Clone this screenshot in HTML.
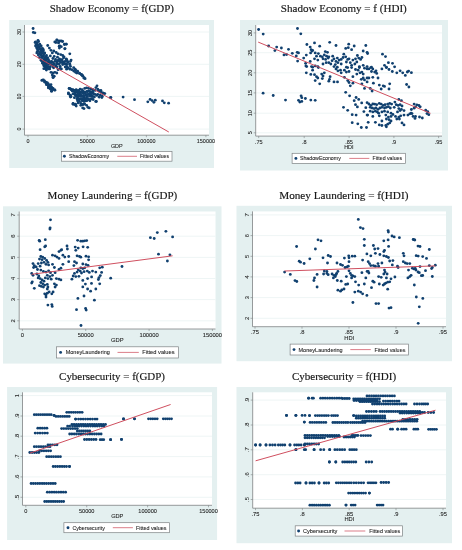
<!DOCTYPE html><html><head><meta charset="utf-8"><style>html,body{margin:0;padding:0;background:#fff;width:462px;height:550px;overflow:hidden}svg{display:block;will-change:transform}.t{font-family:"Liberation Serif",serif;fill:#161616;stroke:#161616;stroke-width:0.16px}.s{font-family:"Liberation Sans",sans-serif;fill:#222;stroke:#222;stroke-width:0.08px}</style></head><body>
<svg width="462" height="550" viewBox="0 0 462 550">
<rect width="462" height="550" fill="#fff"/>
<rect x="9.2" y="20" width="204.8" height="148.0" fill="#e4f0f0"/>
<rect x="24.5" y="25" width="184.5" height="110.2" fill="#fff"/>
<line x1="24.5" x2="209" y1="129.1" y2="129.1" stroke="#eaf2f3" stroke-width="0.8"/>
<line x1="24.5" x2="209" y1="96.4" y2="96.4" stroke="#eaf2f3" stroke-width="0.8"/>
<line x1="24.5" x2="209" y1="64.3" y2="64.3" stroke="#eaf2f3" stroke-width="0.8"/>
<line x1="24.5" x2="209" y1="32.0" y2="32.0" stroke="#eaf2f3" stroke-width="0.8"/>
<text class="t" x="49.7" y="12.4" font-size="11.2" textLength="124.3" lengthAdjust="spacingAndGlyphs">Shadow Economy = f(GDP)</text>
<g fill="#10406f">
<circle cx="33.1" cy="28.5" r="1.42"/><circle cx="33.3" cy="32.4" r="1.42"/><circle cx="34.9" cy="32.8" r="1.42"/><circle cx="38.0" cy="40.3" r="1.42"/><circle cx="56.8" cy="39.9" r="1.42"/><circle cx="59.0" cy="40.8" r="1.42"/><circle cx="62.0" cy="41.1" r="1.42"/><circle cx="35.1" cy="42.5" r="1.42"/><circle cx="36.9" cy="42.9" r="1.42"/><circle cx="55.9" cy="42.5" r="1.42"/><circle cx="58.5" cy="42.9" r="1.42"/><circle cx="64.6" cy="44.1" r="1.42"/><circle cx="66.3" cy="44.2" r="1.42"/><circle cx="36.0" cy="45.1" r="1.42"/><circle cx="38.0" cy="45.5" r="1.42"/><circle cx="47.7" cy="45.5" r="1.42"/><circle cx="59.8" cy="46.0" r="1.42"/><circle cx="36.7" cy="47.7" r="1.42"/><circle cx="39.0" cy="47.3" r="1.42"/><circle cx="40.8" cy="48.6" r="1.42"/><circle cx="49.4" cy="48.1" r="1.42"/><circle cx="65.0" cy="48.6" r="1.42"/><circle cx="59.4" cy="48.1" r="1.42"/><circle cx="38.0" cy="49.9" r="1.42"/><circle cx="41.2" cy="50.3" r="1.42"/><circle cx="43.2" cy="49.4" r="1.42"/><circle cx="51.0" cy="50.3" r="1.42"/><circle cx="53.8" cy="51.0" r="1.42"/><circle cx="37.3" cy="51.6" r="1.42"/><circle cx="39.9" cy="52.3" r="1.42"/><circle cx="42.5" cy="52.5" r="1.42"/><circle cx="44.5" cy="53.3" r="1.42"/><circle cx="52.3" cy="52.9" r="1.42"/><circle cx="56.2" cy="52.5" r="1.42"/><circle cx="58.1" cy="53.8" r="1.42"/><circle cx="60.7" cy="54.6" r="1.42"/><circle cx="69.8" cy="53.8" r="1.42"/><circle cx="39.3" cy="54.2" r="1.42"/><circle cx="41.2" cy="54.9" r="1.42"/><circle cx="43.2" cy="55.9" r="1.42"/><circle cx="45.8" cy="56.8" r="1.42"/><circle cx="50.3" cy="55.9" r="1.42"/><circle cx="54.2" cy="56.4" r="1.42"/><circle cx="57.5" cy="57.2" r="1.42"/><circle cx="62.7" cy="55.5" r="1.42"/><circle cx="64.0" cy="56.8" r="1.42"/><circle cx="41.9" cy="57.2" r="1.42"/><circle cx="44.5" cy="58.5" r="1.42"/><circle cx="47.1" cy="59.0" r="1.42"/><circle cx="52.9" cy="58.5" r="1.42"/><circle cx="55.5" cy="59.4" r="1.42"/><circle cx="59.4" cy="59.0" r="1.42"/><circle cx="62.0" cy="59.8" r="1.42"/><circle cx="66.6" cy="59.4" r="1.42"/><circle cx="71.1" cy="60.1" r="1.42"/><circle cx="45.1" cy="61.1" r="1.42"/><circle cx="48.4" cy="61.6" r="1.42"/><circle cx="51.6" cy="61.4" r="1.42"/><circle cx="56.8" cy="62.0" r="1.42"/><circle cx="60.7" cy="62.4" r="1.42"/><circle cx="64.0" cy="62.0" r="1.42"/><circle cx="67.9" cy="62.4" r="1.42"/><circle cx="46.4" cy="63.3" r="1.42"/><circle cx="49.0" cy="64.0" r="1.42"/><circle cx="54.2" cy="64.0" r="1.42"/><circle cx="58.1" cy="64.0" r="1.42"/><circle cx="62.7" cy="64.6" r="1.42"/><circle cx="69.8" cy="64.0" r="1.42"/><circle cx="45.8" cy="65.9" r="1.42"/><circle cx="48.4" cy="66.6" r="1.42"/><circle cx="56.2" cy="66.3" r="1.42"/><circle cx="60.1" cy="66.3" r="1.42"/><circle cx="65.3" cy="66.8" r="1.42"/><circle cx="70.5" cy="66.3" r="1.42"/><circle cx="73.7" cy="67.6" r="1.42"/><circle cx="46.4" cy="68.5" r="1.42"/><circle cx="49.7" cy="68.9" r="1.42"/><circle cx="61.4" cy="68.9" r="1.42"/><circle cx="66.6" cy="69.2" r="1.42"/><circle cx="69.8" cy="68.9" r="1.42"/><circle cx="75.0" cy="69.2" r="1.42"/><circle cx="41.2" cy="60.6" r="1.42"/><circle cx="43.2" cy="61.3" r="1.42"/><circle cx="45.1" cy="61.9" r="1.42"/><circle cx="42.5" cy="63.2" r="1.42"/><circle cx="44.5" cy="63.9" r="1.42"/><circle cx="46.4" cy="64.5" r="1.42"/><circle cx="43.8" cy="65.8" r="1.42"/><circle cx="45.8" cy="66.5" r="1.42"/><circle cx="47.1" cy="67.8" r="1.42"/><circle cx="45.1" cy="68.4" r="1.42"/><circle cx="46.4" cy="70.1" r="1.42"/><circle cx="49.0" cy="61.3" r="1.42"/><circle cx="51.0" cy="61.9" r="1.42"/><circle cx="52.9" cy="62.6" r="1.42"/><circle cx="54.9" cy="61.3" r="1.42"/><circle cx="57.5" cy="60.6" r="1.42"/><circle cx="60.1" cy="61.3" r="1.42"/><circle cx="62.7" cy="61.9" r="1.42"/><circle cx="65.3" cy="61.3" r="1.42"/><circle cx="67.9" cy="61.9" r="1.42"/><circle cx="70.5" cy="61.3" r="1.42"/><circle cx="64.0" cy="63.9" r="1.42"/><circle cx="66.6" cy="64.5" r="1.42"/><circle cx="69.8" cy="64.5" r="1.42"/><circle cx="52.3" cy="65.2" r="1.42"/><circle cx="55.5" cy="65.8" r="1.42"/><circle cx="53.6" cy="67.8" r="1.42"/><circle cx="56.8" cy="67.1" r="1.42"/><circle cx="60.1" cy="68.4" r="1.42"/><circle cx="58.1" cy="69.7" r="1.42"/><circle cx="65.3" cy="67.1" r="1.42"/><circle cx="67.9" cy="67.8" r="1.42"/><circle cx="69.8" cy="69.1" r="1.42"/><circle cx="71.8" cy="69.7" r="1.42"/><circle cx="73.7" cy="71.0" r="1.42"/><circle cx="75.6" cy="72.3" r="1.42"/><circle cx="76.9" cy="73.0" r="1.42"/><circle cx="79.5" cy="73.6" r="1.42"/><circle cx="81.5" cy="74.9" r="1.42"/><circle cx="82.8" cy="76.2" r="1.42"/><circle cx="84.1" cy="78.2" r="1.42"/><circle cx="51.0" cy="72.3" r="1.42"/><circle cx="52.9" cy="73.0" r="1.42"/><circle cx="54.9" cy="72.3" r="1.42"/><circle cx="56.8" cy="73.0" r="1.42"/><circle cx="52.3" cy="74.9" r="1.42"/><circle cx="54.2" cy="76.2" r="1.42"/><circle cx="52.9" cy="76.9" r="1.42"/><circle cx="42.5" cy="80.1" r="1.42"/><circle cx="44.5" cy="80.8" r="1.42"/><circle cx="45.8" cy="82.1" r="1.42"/><circle cx="47.1" cy="83.4" r="1.42"/><circle cx="48.4" cy="84.0" r="1.42"/><circle cx="46.4" cy="84.7" r="1.42"/><circle cx="49.0" cy="86.0" r="1.42"/><circle cx="50.3" cy="86.6" r="1.42"/><circle cx="51.6" cy="87.3" r="1.42"/><circle cx="48.4" cy="87.9" r="1.42"/><circle cx="51.0" cy="88.6" r="1.42"/><circle cx="52.9" cy="89.2" r="1.42"/><circle cx="54.9" cy="89.9" r="1.42"/><circle cx="51.6" cy="91.2" r="1.42"/><circle cx="69.8" cy="88.6" r="1.42"/><circle cx="71.8" cy="89.9" r="1.42"/><circle cx="73.7" cy="91.2" r="1.42"/><circle cx="75.6" cy="90.5" r="1.42"/><circle cx="76.9" cy="91.8" r="1.42"/><circle cx="78.9" cy="91.2" r="1.42"/><circle cx="80.8" cy="92.5" r="1.42"/><circle cx="82.8" cy="91.2" r="1.42"/><circle cx="84.1" cy="92.5" r="1.42"/><circle cx="68.5" cy="93.8" r="1.42"/><circle cx="70.5" cy="95.1" r="1.42"/><circle cx="73.1" cy="93.8" r="1.42"/><circle cx="75.0" cy="94.4" r="1.42"/><circle cx="76.9" cy="95.1" r="1.42"/><circle cx="78.9" cy="94.4" r="1.42"/><circle cx="80.8" cy="95.7" r="1.42"/><circle cx="82.8" cy="96.4" r="1.42"/><circle cx="84.1" cy="97.7" r="1.42"/><circle cx="70.5" cy="97.0" r="1.42"/><circle cx="74.4" cy="97.7" r="1.42"/><circle cx="77.6" cy="98.3" r="1.42"/><circle cx="79.5" cy="99.0" r="1.42"/><circle cx="82.1" cy="99.6" r="1.42"/><circle cx="84.1" cy="100.3" r="1.42"/><circle cx="73.1" cy="103.5" r="1.42"/><circle cx="75.6" cy="104.2" r="1.42"/><circle cx="78.2" cy="102.9" r="1.42"/><circle cx="80.8" cy="103.5" r="1.42"/><circle cx="83.4" cy="104.2" r="1.42"/><circle cx="69.1" cy="88.4" r="1.42"/><circle cx="71.0" cy="89.1" r="1.42"/><circle cx="73.0" cy="89.7" r="1.42"/><circle cx="68.4" cy="93.0" r="1.42"/><circle cx="70.4" cy="96.2" r="1.42"/><circle cx="72.3" cy="91.0" r="1.42"/><circle cx="74.3" cy="90.4" r="1.42"/><circle cx="76.2" cy="89.7" r="1.42"/><circle cx="78.2" cy="90.4" r="1.42"/><circle cx="80.1" cy="89.1" r="1.42"/><circle cx="82.1" cy="89.7" r="1.42"/><circle cx="84.7" cy="88.4" r="1.42"/><circle cx="86.6" cy="87.8" r="1.42"/><circle cx="88.6" cy="88.4" r="1.42"/><circle cx="91.2" cy="89.1" r="1.42"/><circle cx="93.1" cy="89.7" r="1.42"/><circle cx="95.1" cy="90.4" r="1.42"/><circle cx="97.0" cy="85.8" r="1.42"/><circle cx="97.7" cy="89.1" r="1.42"/><circle cx="99.0" cy="91.0" r="1.42"/><circle cx="100.9" cy="90.4" r="1.42"/><circle cx="102.9" cy="93.0" r="1.42"/><circle cx="104.8" cy="93.6" r="1.42"/><circle cx="110.6" cy="97.5" r="1.42"/><circle cx="74.9" cy="93.0" r="1.42"/><circle cx="76.9" cy="92.3" r="1.42"/><circle cx="78.8" cy="93.0" r="1.42"/><circle cx="80.8" cy="92.3" r="1.42"/><circle cx="82.7" cy="93.0" r="1.42"/><circle cx="84.7" cy="92.3" r="1.42"/><circle cx="87.3" cy="91.7" r="1.42"/><circle cx="89.2" cy="91.0" r="1.42"/><circle cx="91.2" cy="92.3" r="1.42"/><circle cx="93.1" cy="93.0" r="1.42"/><circle cx="95.1" cy="94.3" r="1.42"/><circle cx="97.7" cy="94.3" r="1.42"/><circle cx="100.3" cy="94.9" r="1.42"/><circle cx="102.2" cy="96.2" r="1.42"/><circle cx="99.0" cy="96.9" r="1.42"/><circle cx="75.6" cy="95.6" r="1.42"/><circle cx="77.5" cy="96.2" r="1.42"/><circle cx="79.5" cy="94.9" r="1.42"/><circle cx="81.4" cy="95.6" r="1.42"/><circle cx="83.4" cy="96.2" r="1.42"/><circle cx="86.0" cy="94.9" r="1.42"/><circle cx="87.9" cy="94.3" r="1.42"/><circle cx="89.9" cy="95.6" r="1.42"/><circle cx="91.8" cy="96.2" r="1.42"/><circle cx="94.4" cy="96.9" r="1.42"/><circle cx="76.9" cy="98.8" r="1.42"/><circle cx="78.8" cy="99.5" r="1.42"/><circle cx="80.8" cy="98.8" r="1.42"/><circle cx="82.7" cy="99.5" r="1.42"/><circle cx="84.7" cy="98.8" r="1.42"/><circle cx="86.6" cy="98.2" r="1.42"/><circle cx="88.6" cy="99.5" r="1.42"/><circle cx="91.2" cy="98.8" r="1.42"/><circle cx="93.1" cy="99.5" r="1.42"/><circle cx="95.7" cy="101.4" r="1.42"/><circle cx="77.5" cy="100.8" r="1.42"/><circle cx="79.5" cy="101.4" r="1.42"/><circle cx="82.1" cy="100.8" r="1.42"/><circle cx="84.0" cy="101.4" r="1.42"/><circle cx="86.0" cy="100.8" r="1.42"/><circle cx="89.9" cy="100.8" r="1.42"/><circle cx="73.0" cy="104.0" r="1.42"/><circle cx="74.9" cy="104.7" r="1.42"/><circle cx="76.2" cy="106.0" r="1.42"/><circle cx="80.8" cy="105.3" r="1.42"/><circle cx="82.7" cy="104.7" r="1.42"/><circle cx="84.7" cy="104.0" r="1.42"/><circle cx="86.6" cy="105.3" r="1.42"/><circle cx="82.7" cy="107.9" r="1.42"/><circle cx="84.0" cy="108.6" r="1.42"/><circle cx="87.9" cy="107.3" r="1.42"/><circle cx="89.2" cy="107.9" r="1.42"/><circle cx="75.6" cy="69.9" r="1.42"/><circle cx="77.6" cy="71.2" r="1.42"/><circle cx="79.5" cy="73.1" r="1.42"/><circle cx="81.5" cy="74.4" r="1.42"/><circle cx="82.8" cy="75.7" r="1.42"/><circle cx="84.1" cy="77.7" r="1.42"/><circle cx="85.1" cy="78.7" r="1.42"/><circle cx="95.9" cy="87.6" r="1.42"/><circle cx="98.5" cy="90.2" r="1.42"/><circle cx="101.1" cy="91.9" r="1.42"/><circle cx="103.7" cy="93.3" r="1.42"/><circle cx="96.7" cy="95.4" r="1.42"/><circle cx="99.3" cy="97.1" r="1.42"/><circle cx="101.9" cy="97.5" r="1.42"/><circle cx="96.4" cy="101.5" r="1.42"/><circle cx="110.9" cy="97.6" r="1.42"/><circle cx="123.1" cy="97.1" r="1.42"/><circle cx="134.5" cy="99.7" r="1.42"/><circle cx="147.8" cy="101.8" r="1.42"/><circle cx="150.1" cy="99.4" r="1.42"/><circle cx="152.1" cy="100.6" r="1.42"/><circle cx="153.9" cy="102.3" r="1.42"/><circle cx="155.3" cy="100.2" r="1.42"/><circle cx="162.5" cy="100.9" r="1.42"/><circle cx="164.3" cy="102.8" r="1.42"/><circle cx="168.6" cy="103.2" r="1.42"/><circle cx="41.8" cy="80.4" r="1.42"/><circle cx="43.4" cy="79.9" r="1.42"/><circle cx="44.5" cy="82.0" r="1.42"/><circle cx="46.1" cy="83.1" r="1.42"/><circle cx="47.2" cy="82.6" r="1.42"/><circle cx="47.7" cy="84.7" r="1.42"/><circle cx="49.4" cy="85.3" r="1.42"/><circle cx="51.0" cy="84.7" r="1.42"/><circle cx="48.3" cy="86.9" r="1.42"/><circle cx="49.9" cy="88.0" r="1.42"/><circle cx="51.5" cy="87.4" r="1.42"/><circle cx="53.1" cy="88.5" r="1.42"/><circle cx="54.8" cy="90.2" r="1.42"/><circle cx="51.5" cy="91.2" r="1.42"/><circle cx="52.6" cy="89.6" r="1.42"/><circle cx="50.4" cy="89.1" r="1.42"/><circle cx="53.7" cy="76.6" r="1.42"/><circle cx="53.1" cy="77.7" r="1.42"/><circle cx="69.4" cy="88.5" r="1.42"/><circle cx="71.0" cy="89.6" r="1.42"/><circle cx="72.6" cy="90.7" r="1.42"/><circle cx="74.2" cy="91.2" r="1.42"/><circle cx="68.8" cy="93.9" r="1.42"/><circle cx="71.0" cy="96.6" r="1.42"/><circle cx="73.2" cy="104.2" r="1.42"/><circle cx="54.8" cy="41.9" r="1.42"/><circle cx="57.0" cy="40.2" r="1.42"/><circle cx="58.7" cy="41.9" r="1.42"/><circle cx="60.9" cy="41.0" r="1.42"/><circle cx="62.6" cy="41.5" r="1.42"/><circle cx="64.4" cy="44.5" r="1.42"/><circle cx="66.1" cy="44.1" r="1.42"/><circle cx="59.2" cy="46.2" r="1.42"/><circle cx="61.3" cy="46.7" r="1.42"/><circle cx="64.8" cy="48.8" r="1.42"/><circle cx="63.5" cy="57.9" r="1.42"/><circle cx="66.1" cy="58.8" r="1.42"/><circle cx="67.0" cy="60.5" r="1.42"/><circle cx="60.9" cy="59.6" r="1.42"/><circle cx="58.3" cy="60.5" r="1.42"/><circle cx="56.6" cy="64.0" r="1.42"/><circle cx="59.2" cy="64.0" r="1.42"/><circle cx="62.6" cy="63.1" r="1.42"/><circle cx="66.1" cy="64.0" r="1.42"/><circle cx="67.0" cy="66.6" r="1.42"/><circle cx="35.6" cy="42.0" r="1.42"/><circle cx="38.6" cy="41.6" r="1.42"/><circle cx="37.1" cy="44.0" r="1.42"/><circle cx="39.8" cy="44.2" r="1.42"/><circle cx="35.6" cy="46.0" r="1.42"/><circle cx="38.6" cy="46.2" r="1.42"/><circle cx="41.2" cy="46.0" r="1.42"/><circle cx="37.1" cy="48.7" r="1.42"/><circle cx="39.5" cy="48.8" r="1.42"/><circle cx="42.5" cy="48.3" r="1.42"/><circle cx="38.1" cy="50.8" r="1.42"/><circle cx="41.3" cy="50.7" r="1.42"/><circle cx="43.4" cy="50.8" r="1.42"/><circle cx="36.8" cy="52.9" r="1.42"/><circle cx="39.7" cy="53.1" r="1.42"/><circle cx="42.1" cy="52.9" r="1.42"/><circle cx="44.7" cy="53.0" r="1.42"/><circle cx="38.3" cy="55.0" r="1.42"/><circle cx="41.2" cy="55.4" r="1.42"/><circle cx="43.7" cy="55.1" r="1.42"/><circle cx="46.5" cy="55.5" r="1.42"/><circle cx="39.5" cy="57.5" r="1.42"/><circle cx="42.4" cy="57.7" r="1.42"/><circle cx="45.2" cy="57.5" r="1.42"/><circle cx="47.7" cy="57.7" r="1.42"/><circle cx="40.9" cy="59.9" r="1.42"/><circle cx="43.8" cy="60.1" r="1.42"/><circle cx="46.2" cy="59.9" r="1.42"/><circle cx="48.5" cy="59.7" r="1.42"/><circle cx="42.5" cy="62.1" r="1.42"/><circle cx="44.7" cy="62.1" r="1.42"/><circle cx="47.6" cy="62.2" r="1.42"/><circle cx="50.0" cy="62.1" r="1.42"/><circle cx="43.6" cy="64.5" r="1.42"/><circle cx="46.2" cy="64.3" r="1.42"/><circle cx="48.8" cy="64.1" r="1.42"/><circle cx="51.1" cy="64.5" r="1.42"/><circle cx="45.2" cy="66.7" r="1.42"/><circle cx="47.4" cy="66.4" r="1.42"/><circle cx="50.1" cy="66.9" r="1.42"/><circle cx="52.9" cy="66.7" r="1.42"/><circle cx="43.8" cy="68.7" r="1.42"/><circle cx="46.2" cy="69.2" r="1.42"/><circle cx="48.8" cy="68.9" r="1.42"/><circle cx="76.6" cy="92.0" r="1.42"/><circle cx="79.6" cy="91.6" r="1.42"/><circle cx="82.0" cy="91.7" r="1.42"/><circle cx="84.7" cy="91.9" r="1.42"/><circle cx="87.0" cy="91.5" r="1.42"/><circle cx="90.0" cy="91.7" r="1.42"/><circle cx="92.6" cy="91.5" r="1.42"/><circle cx="78.1" cy="94.2" r="1.42"/><circle cx="80.5" cy="94.3" r="1.42"/><circle cx="83.5" cy="93.7" r="1.42"/><circle cx="85.6" cy="94.0" r="1.42"/><circle cx="88.8" cy="94.0" r="1.42"/><circle cx="90.9" cy="94.0" r="1.42"/><circle cx="93.4" cy="93.9" r="1.42"/><circle cx="76.8" cy="96.3" r="1.42"/><circle cx="79.2" cy="96.1" r="1.42"/><circle cx="81.8" cy="96.3" r="1.42"/><circle cx="84.5" cy="96.0" r="1.42"/><circle cx="87.4" cy="96.3" r="1.42"/><circle cx="89.9" cy="96.1" r="1.42"/><circle cx="92.7" cy="96.5" r="1.42"/><circle cx="77.9" cy="98.4" r="1.42"/><circle cx="80.8" cy="98.7" r="1.42"/><circle cx="83.6" cy="98.5" r="1.42"/><circle cx="86.1" cy="98.7" r="1.42"/><circle cx="88.4" cy="98.6" r="1.42"/><circle cx="91.3" cy="98.8" r="1.42"/><circle cx="84.6" cy="100.9" r="1.42"/><circle cx="86.9" cy="100.7" r="1.42"/>
</g>
<line x1="32.8" y1="54.6" x2="168.8" y2="132.0" stroke="#cc4656" stroke-width="0.95"/>
<line x1="24.5" x2="24.5" y1="25" y2="135.2" stroke="#7d8183" stroke-width="0.8"/>
<line x1="24.5" x2="209" y1="135.2" y2="135.2" stroke="#7d8183" stroke-width="0.8"/>
<line x1="22.5" x2="24.5" y1="129.1" y2="129.1" stroke="#7d8183" stroke-width="0.6"/>
<text class="s" font-size="5.45" text-anchor="middle" transform="translate(20.5,129.1) rotate(-90)" dy="0">0</text>
<line x1="22.5" x2="24.5" y1="96.4" y2="96.4" stroke="#7d8183" stroke-width="0.6"/>
<text class="s" font-size="5.45" text-anchor="middle" transform="translate(20.5,96.4) rotate(-90)" dy="0">10</text>
<line x1="22.5" x2="24.5" y1="64.3" y2="64.3" stroke="#7d8183" stroke-width="0.6"/>
<text class="s" font-size="5.45" text-anchor="middle" transform="translate(20.5,64.3) rotate(-90)" dy="0">20</text>
<line x1="22.5" x2="24.5" y1="32.0" y2="32.0" stroke="#7d8183" stroke-width="0.6"/>
<text class="s" font-size="5.45" text-anchor="middle" transform="translate(20.5,32.0) rotate(-90)" dy="0">30</text>
<line x1="28" x2="28" y1="135.2" y2="137.2" stroke="#7d8183" stroke-width="0.6"/>
<text class="s" font-size="5.45" text-anchor="middle" x="28" y="142.7">0</text>
<line x1="87.3" x2="87.3" y1="135.2" y2="137.2" stroke="#7d8183" stroke-width="0.6"/>
<text class="s" font-size="5.45" text-anchor="middle" x="87.3" y="142.7">50000</text>
<line x1="146.4" x2="146.4" y1="135.2" y2="137.2" stroke="#7d8183" stroke-width="0.6"/>
<text class="s" font-size="5.45" text-anchor="middle" x="146.4" y="142.7">100000</text>
<line x1="205.9" x2="205.9" y1="135.2" y2="137.2" stroke="#7d8183" stroke-width="0.6"/>
<text class="s" font-size="5.45" text-anchor="middle" x="205.9" y="142.7">150000</text>
<text class="s" font-size="5.45" text-anchor="middle" x="116.8" y="147.8">GDP</text>
<rect x="61.4" y="151.4" width="110.6" height="9.8" fill="#fff" stroke="#7d8183" stroke-width="0.7"/>
<circle cx="64.4" cy="156.3" r="1.45" fill="#10406f"/>
<text class="s" font-size="5.45" x="69" y="158.3" textLength="40.0" lengthAdjust="spacingAndGlyphs">ShadowEconomy</text>
<line x1="117.3" x2="137" y1="156.3" y2="156.3" stroke="#cc4656" stroke-width="0.7"/>
<text class="s" font-size="5.45" x="140" y="158.3" textLength="29.0" lengthAdjust="spacingAndGlyphs">Fitted values</text>
<rect x="240" y="20" width="208.0" height="150.5" fill="#e4f0f0"/>
<rect x="255.7" y="25" width="186.3" height="111.1" fill="#fff"/>
<line x1="255.7" x2="442" y1="132.8" y2="132.8" stroke="#eaf2f3" stroke-width="0.8"/>
<line x1="255.7" x2="442" y1="113.2" y2="113.2" stroke="#eaf2f3" stroke-width="0.8"/>
<line x1="255.7" x2="442" y1="92.9" y2="92.9" stroke="#eaf2f3" stroke-width="0.8"/>
<line x1="255.7" x2="442" y1="72.8" y2="72.8" stroke="#eaf2f3" stroke-width="0.8"/>
<line x1="255.7" x2="442" y1="52.7" y2="52.7" stroke="#eaf2f3" stroke-width="0.8"/>
<line x1="255.7" x2="442" y1="32.9" y2="32.9" stroke="#eaf2f3" stroke-width="0.8"/>
<text class="t" x="280.8" y="12.2" font-size="11.2" textLength="126" lengthAdjust="spacingAndGlyphs">Shadow Economy = f (HDI)</text>
<g fill="#10406f">
<circle cx="258.6" cy="29.5" r="1.42"/><circle cx="263.2" cy="34.1" r="1.42"/><circle cx="297.5" cy="28.5" r="1.42"/><circle cx="300.8" cy="33.8" r="1.42"/><circle cx="268.6" cy="46.0" r="1.42"/><circle cx="276.7" cy="47.1" r="1.42"/><circle cx="281.4" cy="48.0" r="1.42"/><circle cx="274.9" cy="50.6" r="1.42"/><circle cx="288.5" cy="49.3" r="1.42"/><circle cx="284.0" cy="54.9" r="1.42"/><circle cx="286.6" cy="54.6" r="1.42"/><circle cx="292.3" cy="53.3" r="1.42"/><circle cx="297.2" cy="52.3" r="1.42"/><circle cx="298.5" cy="52.9" r="1.42"/><circle cx="296.3" cy="55.9" r="1.42"/><circle cx="297.6" cy="61.1" r="1.42"/><circle cx="303.7" cy="58.1" r="1.42"/><circle cx="306.3" cy="55.1" r="1.42"/><circle cx="306.9" cy="44.5" r="1.42"/><circle cx="310.2" cy="47.1" r="1.42"/><circle cx="311.1" cy="49.7" r="1.42"/><circle cx="312.1" cy="51.0" r="1.42"/><circle cx="310.6" cy="52.9" r="1.42"/><circle cx="310.2" cy="61.4" r="1.42"/><circle cx="305.6" cy="63.3" r="1.42"/><circle cx="305.9" cy="65.9" r="1.42"/><circle cx="306.7" cy="66.6" r="1.42"/><circle cx="311.5" cy="66.6" r="1.42"/><circle cx="314.5" cy="42.9" r="1.42"/><circle cx="329.7" cy="42.3" r="1.42"/><circle cx="319.7" cy="46.2" r="1.42"/><circle cx="336.0" cy="45.5" r="1.42"/><circle cx="312.6" cy="50.3" r="1.42"/><circle cx="348.7" cy="44.2" r="1.42"/><circle cx="345.7" cy="48.4" r="1.42"/><circle cx="348.3" cy="47.7" r="1.42"/><circle cx="351.6" cy="49.7" r="1.42"/><circle cx="354.2" cy="46.0" r="1.42"/><circle cx="365.8" cy="45.5" r="1.42"/><circle cx="363.2" cy="51.0" r="1.42"/><circle cx="367.1" cy="52.3" r="1.42"/><circle cx="315.2" cy="52.9" r="1.42"/><circle cx="318.4" cy="53.6" r="1.42"/><circle cx="325.3" cy="51.6" r="1.42"/><circle cx="327.5" cy="52.3" r="1.42"/><circle cx="324.3" cy="54.9" r="1.42"/><circle cx="326.6" cy="56.2" r="1.42"/><circle cx="328.8" cy="56.8" r="1.42"/><circle cx="322.3" cy="56.8" r="1.42"/><circle cx="320.4" cy="56.2" r="1.42"/><circle cx="316.5" cy="56.2" r="1.42"/><circle cx="314.5" cy="58.8" r="1.42"/><circle cx="317.8" cy="60.1" r="1.42"/><circle cx="323.0" cy="58.8" r="1.42"/><circle cx="325.6" cy="59.4" r="1.42"/><circle cx="328.2" cy="58.1" r="1.42"/><circle cx="332.7" cy="56.2" r="1.42"/><circle cx="334.0" cy="58.8" r="1.42"/><circle cx="332.1" cy="60.7" r="1.42"/><circle cx="337.3" cy="58.1" r="1.42"/><circle cx="336.0" cy="61.4" r="1.42"/><circle cx="339.2" cy="60.1" r="1.42"/><circle cx="341.2" cy="59.4" r="1.42"/><circle cx="343.8" cy="54.2" r="1.42"/><circle cx="343.1" cy="57.5" r="1.42"/><circle cx="345.7" cy="56.8" r="1.42"/><circle cx="347.7" cy="59.4" r="1.42"/><circle cx="349.0" cy="58.8" r="1.42"/><circle cx="346.4" cy="62.0" r="1.42"/><circle cx="350.3" cy="62.7" r="1.42"/><circle cx="352.9" cy="60.1" r="1.42"/><circle cx="357.4" cy="55.5" r="1.42"/><circle cx="355.5" cy="58.8" r="1.42"/><circle cx="358.7" cy="58.1" r="1.42"/><circle cx="360.6" cy="59.4" r="1.42"/><circle cx="361.9" cy="57.5" r="1.42"/><circle cx="356.8" cy="62.0" r="1.42"/><circle cx="354.8" cy="64.0" r="1.42"/><circle cx="351.6" cy="65.3" r="1.42"/><circle cx="341.2" cy="64.0" r="1.42"/><circle cx="337.9" cy="62.7" r="1.42"/><circle cx="335.3" cy="64.6" r="1.42"/><circle cx="334.0" cy="66.6" r="1.42"/><circle cx="337.3" cy="67.2" r="1.42"/><circle cx="330.8" cy="64.0" r="1.42"/><circle cx="328.8" cy="62.7" r="1.42"/><circle cx="326.2" cy="62.7" r="1.42"/><circle cx="323.0" cy="64.0" r="1.42"/><circle cx="317.8" cy="66.6" r="1.42"/><circle cx="315.2" cy="65.9" r="1.42"/><circle cx="312.6" cy="67.2" r="1.42"/><circle cx="346.4" cy="67.2" r="1.42"/><circle cx="359.4" cy="66.6" r="1.42"/><circle cx="363.2" cy="65.3" r="1.42"/><circle cx="367.1" cy="66.6" r="1.42"/><circle cx="367.6" cy="53.6" r="1.42"/><circle cx="382.5" cy="54.2" r="1.42"/><circle cx="385.5" cy="56.6" r="1.42"/><circle cx="388.4" cy="62.7" r="1.42"/><circle cx="392.5" cy="63.3" r="1.42"/><circle cx="394.6" cy="66.8" r="1.42"/><circle cx="384.5" cy="65.3" r="1.42"/><circle cx="386.4" cy="67.2" r="1.42"/><circle cx="371.5" cy="67.2" r="1.42"/><circle cx="306.3" cy="72.8" r="1.42"/><circle cx="310.8" cy="74.4" r="1.42"/><circle cx="263.1" cy="93.2" r="1.42"/><circle cx="273.2" cy="95.5" r="1.42"/><circle cx="285.5" cy="100.1" r="1.42"/><circle cx="301.1" cy="95.8" r="1.42"/><circle cx="301.8" cy="97.7" r="1.42"/><circle cx="305.4" cy="98.5" r="1.42"/><circle cx="298.5" cy="100.3" r="1.42"/><circle cx="299.8" cy="102.0" r="1.42"/><circle cx="301.8" cy="101.4" r="1.42"/><circle cx="310.8" cy="100.1" r="1.42"/><circle cx="318.4" cy="67.6" r="1.42"/><circle cx="312.6" cy="70.2" r="1.42"/><circle cx="314.5" cy="74.7" r="1.42"/><circle cx="316.5" cy="76.7" r="1.42"/><circle cx="317.8" cy="78.0" r="1.42"/><circle cx="321.7" cy="74.1" r="1.42"/><circle cx="324.3" cy="72.8" r="1.42"/><circle cx="323.0" cy="76.0" r="1.42"/><circle cx="322.3" cy="78.6" r="1.42"/><circle cx="315.2" cy="80.6" r="1.42"/><circle cx="319.7" cy="83.8" r="1.42"/><circle cx="330.1" cy="76.7" r="1.42"/><circle cx="329.5" cy="79.3" r="1.42"/><circle cx="328.8" cy="81.2" r="1.42"/><circle cx="334.0" cy="81.9" r="1.42"/><circle cx="337.5" cy="81.9" r="1.42"/><circle cx="336.0" cy="68.9" r="1.42"/><circle cx="337.9" cy="70.8" r="1.42"/><circle cx="340.5" cy="70.2" r="1.42"/><circle cx="341.2" cy="72.8" r="1.42"/><circle cx="344.4" cy="70.2" r="1.42"/><circle cx="346.4" cy="72.1" r="1.42"/><circle cx="349.0" cy="71.5" r="1.42"/><circle cx="347.7" cy="67.6" r="1.42"/><circle cx="351.6" cy="67.6" r="1.42"/><circle cx="355.5" cy="69.5" r="1.42"/><circle cx="358.1" cy="70.2" r="1.42"/><circle cx="360.0" cy="72.8" r="1.42"/><circle cx="361.9" cy="72.1" r="1.42"/><circle cx="363.2" cy="74.1" r="1.42"/><circle cx="356.8" cy="74.1" r="1.42"/><circle cx="352.9" cy="76.7" r="1.42"/><circle cx="344.4" cy="77.3" r="1.42"/><circle cx="347.7" cy="80.6" r="1.42"/><circle cx="349.0" cy="82.5" r="1.42"/><circle cx="350.3" cy="85.8" r="1.42"/><circle cx="352.9" cy="83.2" r="1.42"/><circle cx="361.3" cy="79.3" r="1.42"/><circle cx="363.2" cy="78.0" r="1.42"/><circle cx="364.5" cy="79.9" r="1.42"/><circle cx="367.1" cy="78.0" r="1.42"/><circle cx="367.1" cy="81.9" r="1.42"/><circle cx="361.9" cy="83.8" r="1.42"/><circle cx="364.5" cy="88.4" r="1.42"/><circle cx="367.1" cy="68.9" r="1.42"/><circle cx="364.5" cy="68.2" r="1.42"/><circle cx="359.4" cy="67.6" r="1.42"/><circle cx="345.7" cy="92.3" r="1.42"/><circle cx="349.6" cy="95.8" r="1.42"/><circle cx="356.1" cy="97.5" r="1.42"/><circle cx="358.7" cy="99.4" r="1.42"/><circle cx="354.2" cy="100.7" r="1.42"/><circle cx="361.7" cy="102.9" r="1.42"/><circle cx="367.1" cy="102.7" r="1.42"/><circle cx="315.2" cy="100.3" r="1.42"/><circle cx="368.9" cy="68.9" r="1.42"/><circle cx="370.8" cy="67.6" r="1.42"/><circle cx="372.8" cy="68.9" r="1.42"/><circle cx="371.5" cy="71.5" r="1.42"/><circle cx="374.7" cy="72.1" r="1.42"/><circle cx="376.7" cy="73.4" r="1.42"/><circle cx="376.0" cy="70.8" r="1.42"/><circle cx="381.9" cy="68.9" r="1.42"/><circle cx="386.4" cy="67.6" r="1.42"/><circle cx="389.0" cy="69.5" r="1.42"/><circle cx="392.3" cy="71.5" r="1.42"/><circle cx="396.8" cy="72.8" r="1.42"/><circle cx="400.1" cy="70.8" r="1.42"/><circle cx="402.7" cy="72.8" r="1.42"/><circle cx="405.3" cy="75.4" r="1.42"/><circle cx="368.9" cy="78.0" r="1.42"/><circle cx="372.8" cy="77.3" r="1.42"/><circle cx="378.0" cy="78.0" r="1.42"/><circle cx="373.4" cy="83.2" r="1.42"/><circle cx="379.3" cy="85.1" r="1.42"/><circle cx="383.2" cy="85.8" r="1.42"/><circle cx="384.5" cy="86.4" r="1.42"/><circle cx="389.7" cy="83.8" r="1.42"/><circle cx="381.2" cy="89.0" r="1.42"/><circle cx="389.0" cy="89.0" r="1.42"/><circle cx="370.2" cy="88.4" r="1.42"/><circle cx="372.1" cy="91.0" r="1.42"/><circle cx="406.6" cy="84.5" r="1.42"/><circle cx="368.9" cy="104.0" r="1.42"/><circle cx="370.8" cy="105.3" r="1.42"/><circle cx="372.8" cy="104.0" r="1.42"/><circle cx="398.8" cy="99.4" r="1.42"/><circle cx="401.4" cy="100.7" r="1.42"/><circle cx="407.3" cy="72.0" r="1.42"/><circle cx="408.6" cy="71.1" r="1.42"/><circle cx="411.4" cy="72.7" r="1.42"/><circle cx="408.9" cy="87.0" r="1.42"/><circle cx="412.0" cy="113.6" r="1.42"/><circle cx="411.4" cy="109.5" r="1.42"/><circle cx="414.1" cy="108.2" r="1.42"/><circle cx="415.5" cy="106.8" r="1.42"/><circle cx="414.1" cy="104.1" r="1.42"/><circle cx="416.8" cy="104.8" r="1.42"/><circle cx="418.9" cy="105.5" r="1.42"/><circle cx="420.2" cy="106.8" r="1.42"/><circle cx="415.5" cy="116.4" r="1.42"/><circle cx="419.5" cy="117.0" r="1.42"/><circle cx="422.3" cy="118.0" r="1.42"/><circle cx="425.7" cy="110.2" r="1.42"/><circle cx="427.7" cy="111.6" r="1.42"/><circle cx="427.0" cy="113.6" r="1.42"/><circle cx="428.8" cy="114.7" r="1.42"/><circle cx="355.5" cy="104.7" r="1.42"/><circle cx="357.4" cy="106.9" r="1.42"/><circle cx="365.8" cy="107.7" r="1.42"/><circle cx="363.9" cy="111.6" r="1.42"/><circle cx="343.5" cy="107.3" r="1.42"/><circle cx="347.7" cy="110.3" r="1.42"/><circle cx="352.2" cy="114.7" r="1.42"/><circle cx="356.1" cy="115.1" r="1.42"/><circle cx="367.1" cy="115.1" r="1.42"/><circle cx="352.2" cy="122.7" r="1.42"/><circle cx="357.8" cy="123.8" r="1.42"/><circle cx="361.3" cy="127.5" r="1.42"/><circle cx="366.5" cy="127.5" r="1.42"/><circle cx="374.7" cy="104.1" r="1.42"/><circle cx="376.7" cy="104.7" r="1.42"/><circle cx="379.3" cy="103.4" r="1.42"/><circle cx="381.2" cy="104.1" r="1.42"/><circle cx="383.2" cy="105.4" r="1.42"/><circle cx="385.1" cy="104.7" r="1.42"/><circle cx="387.7" cy="104.1" r="1.42"/><circle cx="389.7" cy="103.4" r="1.42"/><circle cx="391.6" cy="104.1" r="1.42"/><circle cx="394.9" cy="102.1" r="1.42"/><circle cx="396.2" cy="104.7" r="1.42"/><circle cx="398.1" cy="105.4" r="1.42"/><circle cx="400.1" cy="104.7" r="1.42"/><circle cx="402.0" cy="106.0" r="1.42"/><circle cx="370.2" cy="107.3" r="1.42"/><circle cx="372.1" cy="108.0" r="1.42"/><circle cx="374.1" cy="108.6" r="1.42"/><circle cx="376.0" cy="108.0" r="1.42"/><circle cx="378.0" cy="109.3" r="1.42"/><circle cx="379.9" cy="108.0" r="1.42"/><circle cx="381.9" cy="107.3" r="1.42"/><circle cx="384.5" cy="108.0" r="1.42"/><circle cx="386.4" cy="107.3" r="1.42"/><circle cx="388.4" cy="106.7" r="1.42"/><circle cx="390.3" cy="108.0" r="1.42"/><circle cx="394.2" cy="107.3" r="1.42"/><circle cx="398.8" cy="108.6" r="1.42"/><circle cx="401.4" cy="109.3" r="1.42"/><circle cx="404.0" cy="110.6" r="1.42"/><circle cx="370.2" cy="111.2" r="1.42"/><circle cx="372.8" cy="111.9" r="1.42"/><circle cx="375.4" cy="111.2" r="1.42"/><circle cx="377.3" cy="111.9" r="1.42"/><circle cx="378.6" cy="113.2" r="1.42"/><circle cx="381.9" cy="111.9" r="1.42"/><circle cx="384.5" cy="111.2" r="1.42"/><circle cx="387.7" cy="111.9" r="1.42"/><circle cx="391.0" cy="113.2" r="1.42"/><circle cx="392.9" cy="114.5" r="1.42"/><circle cx="397.5" cy="111.9" r="1.42"/><circle cx="400.1" cy="110.6" r="1.42"/><circle cx="411.1" cy="113.2" r="1.42"/><circle cx="367.6" cy="115.1" r="1.42"/><circle cx="372.8" cy="116.4" r="1.42"/><circle cx="379.3" cy="115.8" r="1.42"/><circle cx="385.8" cy="115.1" r="1.42"/><circle cx="388.4" cy="117.1" r="1.42"/><circle cx="391.0" cy="116.4" r="1.42"/><circle cx="395.5" cy="116.4" r="1.42"/><circle cx="398.8" cy="117.1" r="1.42"/><circle cx="400.7" cy="115.8" r="1.42"/><circle cx="404.0" cy="115.1" r="1.42"/><circle cx="407.9" cy="115.1" r="1.42"/><circle cx="409.8" cy="113.8" r="1.42"/><circle cx="413.1" cy="116.4" r="1.42"/><circle cx="415.0" cy="118.4" r="1.42"/><circle cx="368.2" cy="122.3" r="1.42"/><circle cx="375.4" cy="122.3" r="1.42"/><circle cx="381.9" cy="121.0" r="1.42"/><circle cx="386.4" cy="119.0" r="1.42"/><circle cx="389.0" cy="119.7" r="1.42"/><circle cx="391.0" cy="121.0" r="1.42"/><circle cx="396.8" cy="119.0" r="1.42"/><circle cx="399.4" cy="119.0" r="1.42"/><circle cx="389.7" cy="122.9" r="1.42"/><circle cx="379.3" cy="124.9" r="1.42"/><circle cx="381.9" cy="125.5" r="1.42"/><circle cx="385.8" cy="125.5" r="1.42"/><circle cx="387.7" cy="124.2" r="1.42"/><circle cx="386.4" cy="126.8" r="1.42"/><circle cx="402.0" cy="122.9" r="1.42"/><circle cx="404.0" cy="124.9" r="1.42"/>
</g>
<line x1="258.2" y1="42.1" x2="430.5" y2="113.3" stroke="#cc4656" stroke-width="0.95"/>
<line x1="255.7" x2="255.7" y1="25" y2="136.1" stroke="#7d8183" stroke-width="0.8"/>
<line x1="255.7" x2="442" y1="136.1" y2="136.1" stroke="#7d8183" stroke-width="0.8"/>
<line x1="253.7" x2="255.7" y1="132.8" y2="132.8" stroke="#7d8183" stroke-width="0.6"/>
<text class="s" font-size="5.54" text-anchor="middle" transform="translate(251.7,132.8) rotate(-90)" dy="0">5</text>
<line x1="253.7" x2="255.7" y1="113.2" y2="113.2" stroke="#7d8183" stroke-width="0.6"/>
<text class="s" font-size="5.54" text-anchor="middle" transform="translate(251.7,113.2) rotate(-90)" dy="0">10</text>
<line x1="253.7" x2="255.7" y1="92.9" y2="92.9" stroke="#7d8183" stroke-width="0.6"/>
<text class="s" font-size="5.54" text-anchor="middle" transform="translate(251.7,92.9) rotate(-90)" dy="0">15</text>
<line x1="253.7" x2="255.7" y1="72.8" y2="72.8" stroke="#7d8183" stroke-width="0.6"/>
<text class="s" font-size="5.54" text-anchor="middle" transform="translate(251.7,72.8) rotate(-90)" dy="0">20</text>
<line x1="253.7" x2="255.7" y1="52.7" y2="52.7" stroke="#7d8183" stroke-width="0.6"/>
<text class="s" font-size="5.54" text-anchor="middle" transform="translate(251.7,52.7) rotate(-90)" dy="0">25</text>
<line x1="253.7" x2="255.7" y1="32.9" y2="32.9" stroke="#7d8183" stroke-width="0.6"/>
<text class="s" font-size="5.54" text-anchor="middle" transform="translate(251.7,32.9) rotate(-90)" dy="0">30</text>
<line x1="258.7" x2="258.7" y1="136.1" y2="138.1" stroke="#7d8183" stroke-width="0.6"/>
<text class="s" font-size="5.54" text-anchor="middle" x="258.7" y="143.6">.75</text>
<line x1="304.2" x2="304.2" y1="136.1" y2="138.1" stroke="#7d8183" stroke-width="0.6"/>
<text class="s" font-size="5.54" text-anchor="middle" x="304.2" y="143.6">.8</text>
<line x1="349.1" x2="349.1" y1="136.1" y2="138.1" stroke="#7d8183" stroke-width="0.6"/>
<text class="s" font-size="5.54" text-anchor="middle" x="349.1" y="143.6">.85</text>
<line x1="393.9" x2="393.9" y1="136.1" y2="138.1" stroke="#7d8183" stroke-width="0.6"/>
<text class="s" font-size="5.54" text-anchor="middle" x="393.9" y="143.6">.9</text>
<line x1="438.6" x2="438.6" y1="136.1" y2="138.1" stroke="#7d8183" stroke-width="0.6"/>
<text class="s" font-size="5.54" text-anchor="middle" x="438.6" y="143.6">.95</text>
<text class="s" font-size="5.54" text-anchor="middle" x="348.9" y="148.8">HDI</text>
<rect x="292.1" y="153.3" width="113.5" height="10.1" fill="#fff" stroke="#7d8183" stroke-width="0.7"/>
<circle cx="295.9" cy="158.4" r="1.45" fill="#10406f"/>
<text class="s" font-size="5.54" x="299.9" y="160.4" textLength="40.9" lengthAdjust="spacingAndGlyphs">ShadowEconomy</text>
<line x1="349.3" x2="369.3" y1="158.4" y2="158.4" stroke="#cc4656" stroke-width="0.7"/>
<text class="s" font-size="5.54" x="372.5" y="160.4" textLength="29.6" lengthAdjust="spacingAndGlyphs">Fitted values</text>
<rect x="3" y="206.3" width="218.5" height="157.3" fill="#e4f0f0"/>
<rect x="19.2" y="211.5" width="196.3" height="117.5" fill="#fff"/>
<line x1="19.2" x2="215.5" y1="320.8" y2="320.8" stroke="#eaf2f3" stroke-width="0.8"/>
<line x1="19.2" x2="215.5" y1="299.6" y2="299.6" stroke="#eaf2f3" stroke-width="0.8"/>
<line x1="19.2" x2="215.5" y1="278.5" y2="278.5" stroke="#eaf2f3" stroke-width="0.8"/>
<line x1="19.2" x2="215.5" y1="257.4" y2="257.4" stroke="#eaf2f3" stroke-width="0.8"/>
<line x1="19.2" x2="215.5" y1="236.2" y2="236.2" stroke="#eaf2f3" stroke-width="0.8"/>
<line x1="19.2" x2="215.5" y1="215.0" y2="215.0" stroke="#eaf2f3" stroke-width="0.8"/>
<text class="t" x="47.6" y="199.2" font-size="11.2" textLength="129.6" lengthAdjust="spacingAndGlyphs">Money Laundering = f(GDP)</text>
<g fill="#10406f">
<circle cx="50.5" cy="219.8" r="1.42"/><circle cx="50.1" cy="227.8" r="1.42"/><circle cx="49.9" cy="229.1" r="1.42"/><circle cx="39.2" cy="240.3" r="1.42"/><circle cx="39.7" cy="241.2" r="1.42"/><circle cx="45.3" cy="239.7" r="1.42"/><circle cx="44.7" cy="246.8" r="1.42"/><circle cx="45.6" cy="246.0" r="1.42"/><circle cx="40.1" cy="249.7" r="1.42"/><circle cx="75.2" cy="247.1" r="1.42"/><circle cx="75.8" cy="250.3" r="1.42"/><circle cx="67.0" cy="246.0" r="1.42"/><circle cx="67.4" cy="249.0" r="1.42"/><circle cx="59.0" cy="251.6" r="1.42"/><circle cx="60.9" cy="250.3" r="1.42"/><circle cx="61.6" cy="249.7" r="1.42"/><circle cx="52.5" cy="255.2" r="1.42"/><circle cx="55.1" cy="255.8" r="1.42"/><circle cx="57.0" cy="257.1" r="1.42"/><circle cx="59.0" cy="258.4" r="1.42"/><circle cx="62.9" cy="255.2" r="1.42"/><circle cx="64.8" cy="257.1" r="1.42"/><circle cx="68.7" cy="256.5" r="1.42"/><circle cx="77.1" cy="255.8" r="1.42"/><circle cx="40.8" cy="256.5" r="1.42"/><circle cx="42.7" cy="257.1" r="1.42"/><circle cx="39.5" cy="259.1" r="1.42"/><circle cx="42.1" cy="259.7" r="1.42"/><circle cx="44.7" cy="258.4" r="1.42"/><circle cx="46.6" cy="260.4" r="1.42"/><circle cx="47.9" cy="262.3" r="1.42"/><circle cx="44.0" cy="262.3" r="1.42"/><circle cx="41.4" cy="263.0" r="1.42"/><circle cx="46.0" cy="264.3" r="1.42"/><circle cx="48.6" cy="264.9" r="1.42"/><circle cx="52.5" cy="264.3" r="1.42"/><circle cx="54.4" cy="267.5" r="1.42"/><circle cx="62.9" cy="264.3" r="1.42"/><circle cx="68.7" cy="261.7" r="1.42"/><circle cx="74.5" cy="261.7" r="1.42"/><circle cx="76.5" cy="263.0" r="1.42"/><circle cx="73.9" cy="265.6" r="1.42"/><circle cx="33.0" cy="263.6" r="1.42"/><circle cx="34.3" cy="265.6" r="1.42"/><circle cx="33.6" cy="267.5" r="1.42"/><circle cx="36.2" cy="266.9" r="1.42"/><circle cx="38.2" cy="263.6" r="1.42"/><circle cx="40.1" cy="266.2" r="1.42"/><circle cx="37.5" cy="269.5" r="1.42"/><circle cx="40.8" cy="270.1" r="1.42"/><circle cx="43.4" cy="271.4" r="1.42"/><circle cx="46.0" cy="272.1" r="1.42"/><circle cx="48.6" cy="270.8" r="1.42"/><circle cx="50.5" cy="272.7" r="1.42"/><circle cx="52.5" cy="275.3" r="1.42"/><circle cx="49.9" cy="276.6" r="1.42"/><circle cx="47.3" cy="275.3" r="1.42"/><circle cx="45.3" cy="277.9" r="1.42"/><circle cx="47.9" cy="278.6" r="1.42"/><circle cx="51.2" cy="279.2" r="1.42"/><circle cx="55.1" cy="272.7" r="1.42"/><circle cx="59.0" cy="269.5" r="1.42"/><circle cx="60.9" cy="268.2" r="1.42"/><circle cx="56.4" cy="278.6" r="1.42"/><circle cx="59.0" cy="279.2" r="1.42"/><circle cx="60.9" cy="279.9" r="1.42"/><circle cx="74.5" cy="273.4" r="1.42"/><circle cx="77.1" cy="272.1" r="1.42"/><circle cx="73.2" cy="276.0" r="1.42"/><circle cx="75.8" cy="276.6" r="1.42"/><circle cx="71.9" cy="279.2" r="1.42"/><circle cx="31.7" cy="273.4" r="1.42"/><circle cx="33.0" cy="275.3" r="1.42"/><circle cx="36.9" cy="274.0" r="1.42"/><circle cx="38.8" cy="276.0" r="1.42"/><circle cx="38.2" cy="277.9" r="1.42"/><circle cx="40.1" cy="278.6" r="1.42"/><circle cx="42.1" cy="279.9" r="1.42"/><circle cx="44.0" cy="281.2" r="1.42"/><circle cx="40.8" cy="282.5" r="1.42"/><circle cx="42.7" cy="283.8" r="1.42"/><circle cx="44.7" cy="285.1" r="1.42"/><circle cx="47.3" cy="284.4" r="1.42"/><circle cx="39.5" cy="285.7" r="1.42"/><circle cx="41.4" cy="286.4" r="1.42"/><circle cx="43.4" cy="287.0" r="1.42"/><circle cx="32.3" cy="281.8" r="1.42"/><circle cx="31.7" cy="283.1" r="1.42"/><circle cx="34.3" cy="288.3" r="1.42"/><circle cx="47.9" cy="287.0" r="1.42"/><circle cx="47.3" cy="289.0" r="1.42"/><circle cx="54.4" cy="283.8" r="1.42"/><circle cx="56.4" cy="285.1" r="1.42"/><circle cx="55.1" cy="287.0" r="1.42"/><circle cx="44.7" cy="293.8" r="1.42"/><circle cx="46.0" cy="295.1" r="1.42"/><circle cx="47.3" cy="293.2" r="1.42"/><circle cx="49.2" cy="291.9" r="1.42"/><circle cx="53.1" cy="291.9" r="1.42"/><circle cx="51.8" cy="293.8" r="1.42"/><circle cx="46.0" cy="297.1" r="1.42"/><circle cx="47.9" cy="305.1" r="1.42"/><circle cx="51.8" cy="304.6" r="1.42"/><circle cx="52.2" cy="306.4" r="1.42"/><circle cx="77.6" cy="240.3" r="1.42"/><circle cx="80.8" cy="241.2" r="1.42"/><circle cx="82.8" cy="241.2" r="1.42"/><circle cx="84.7" cy="240.8" r="1.42"/><circle cx="86.7" cy="240.6" r="1.42"/><circle cx="78.2" cy="248.1" r="1.42"/><circle cx="83.1" cy="246.8" r="1.42"/><circle cx="87.7" cy="247.3" r="1.42"/><circle cx="79.5" cy="256.4" r="1.42"/><circle cx="80.8" cy="257.2" r="1.42"/><circle cx="86.0" cy="256.2" r="1.42"/><circle cx="88.6" cy="256.8" r="1.42"/><circle cx="88.6" cy="259.8" r="1.42"/><circle cx="82.8" cy="264.0" r="1.42"/><circle cx="86.0" cy="264.6" r="1.42"/><circle cx="88.0" cy="265.3" r="1.42"/><circle cx="80.8" cy="267.8" r="1.42"/><circle cx="82.8" cy="268.5" r="1.42"/><circle cx="84.7" cy="267.8" r="1.42"/><circle cx="78.2" cy="269.8" r="1.42"/><circle cx="80.2" cy="271.1" r="1.42"/><circle cx="78.9" cy="276.3" r="1.42"/><circle cx="81.5" cy="273.0" r="1.42"/><circle cx="84.1" cy="271.7" r="1.42"/><circle cx="87.3" cy="271.1" r="1.42"/><circle cx="89.3" cy="272.4" r="1.42"/><circle cx="92.5" cy="271.1" r="1.42"/><circle cx="95.8" cy="272.1" r="1.42"/><circle cx="99.7" cy="267.8" r="1.42"/><circle cx="102.3" cy="267.2" r="1.42"/><circle cx="101.6" cy="272.4" r="1.42"/><circle cx="100.3" cy="275.6" r="1.42"/><circle cx="99.0" cy="277.6" r="1.42"/><circle cx="98.4" cy="279.5" r="1.42"/><circle cx="91.6" cy="276.9" r="1.42"/><circle cx="87.6" cy="278.6" r="1.42"/><circle cx="82.8" cy="280.4" r="1.42"/><circle cx="85.4" cy="284.1" r="1.42"/><circle cx="91.5" cy="283.4" r="1.42"/><circle cx="99.7" cy="283.8" r="1.42"/><circle cx="82.8" cy="286.9" r="1.42"/><circle cx="87.6" cy="289.0" r="1.42"/><circle cx="90.6" cy="291.2" r="1.42"/><circle cx="95.8" cy="289.0" r="1.42"/><circle cx="110.7" cy="278.2" r="1.42"/><circle cx="122.0" cy="266.5" r="1.42"/><circle cx="150.4" cy="237.7" r="1.42"/><circle cx="154.2" cy="238.5" r="1.42"/><circle cx="157.3" cy="232.6" r="1.42"/><circle cx="165.9" cy="231.3" r="1.42"/><circle cx="172.6" cy="236.9" r="1.42"/><circle cx="158.5" cy="254.2" r="1.42"/><circle cx="169.9" cy="254.8" r="1.42"/><circle cx="167.4" cy="261.0" r="1.42"/><circle cx="76.5" cy="309.7" r="1.42"/><circle cx="85.6" cy="308.4" r="1.42"/><circle cx="86.2" cy="310.1" r="1.42"/><circle cx="81" cy="325.5" r="1.42"/><circle cx="84" cy="296" r="1.42"/><circle cx="77.9" cy="298.4" r="1.42"/><circle cx="94.4" cy="300.2" r="1.42"/>
</g>
<line x1="31.7" y1="274.3" x2="172.6" y2="255.8" stroke="#cc4656" stroke-width="0.95"/>
<line x1="19.2" x2="19.2" y1="211.5" y2="329.0" stroke="#7d8183" stroke-width="0.8"/>
<line x1="19.2" x2="215.5" y1="329.0" y2="329.0" stroke="#7d8183" stroke-width="0.8"/>
<line x1="17.2" x2="19.2" y1="320.8" y2="320.8" stroke="#7d8183" stroke-width="0.6"/>
<text class="s" font-size="5.81" text-anchor="middle" transform="translate(15.2,320.8) rotate(-90)" dy="0">2</text>
<line x1="17.2" x2="19.2" y1="299.6" y2="299.6" stroke="#7d8183" stroke-width="0.6"/>
<text class="s" font-size="5.81" text-anchor="middle" transform="translate(15.2,299.6) rotate(-90)" dy="0">3</text>
<line x1="17.2" x2="19.2" y1="278.5" y2="278.5" stroke="#7d8183" stroke-width="0.6"/>
<text class="s" font-size="5.81" text-anchor="middle" transform="translate(15.2,278.5) rotate(-90)" dy="0">4</text>
<line x1="17.2" x2="19.2" y1="257.4" y2="257.4" stroke="#7d8183" stroke-width="0.6"/>
<text class="s" font-size="5.81" text-anchor="middle" transform="translate(15.2,257.4) rotate(-90)" dy="0">5</text>
<line x1="17.2" x2="19.2" y1="236.2" y2="236.2" stroke="#7d8183" stroke-width="0.6"/>
<text class="s" font-size="5.81" text-anchor="middle" transform="translate(15.2,236.2) rotate(-90)" dy="0">6</text>
<line x1="17.2" x2="19.2" y1="215.0" y2="215.0" stroke="#7d8183" stroke-width="0.6"/>
<text class="s" font-size="5.81" text-anchor="middle" transform="translate(15.2,215.0) rotate(-90)" dy="0">7</text>
<line x1="22.4" x2="22.4" y1="329.0" y2="331.0" stroke="#7d8183" stroke-width="0.6"/>
<text class="s" font-size="5.81" text-anchor="middle" x="22.4" y="336.5">0</text>
<line x1="85.7" x2="85.7" y1="329.0" y2="331.0" stroke="#7d8183" stroke-width="0.6"/>
<text class="s" font-size="5.81" text-anchor="middle" x="85.7" y="336.5">50000</text>
<line x1="149.1" x2="149.1" y1="329.0" y2="331.0" stroke="#7d8183" stroke-width="0.6"/>
<text class="s" font-size="5.81" text-anchor="middle" x="149.1" y="336.5">100000</text>
<line x1="212.4" x2="212.4" y1="329.0" y2="331.0" stroke="#7d8183" stroke-width="0.6"/>
<text class="s" font-size="5.81" text-anchor="middle" x="212.4" y="336.5">150000</text>
<text class="s" font-size="5.81" text-anchor="middle" x="117.3" y="341.5">GDP</text>
<rect x="56.6" y="346.8" width="122.0" height="11.2" fill="#fff" stroke="#7d8183" stroke-width="0.7"/>
<circle cx="60.6" cy="352.4" r="1.45" fill="#10406f"/>
<text class="s" font-size="5.81" x="65.7" y="354.4" textLength="44.2" lengthAdjust="spacingAndGlyphs">MoneyLaundering</text>
<line x1="117.5" x2="138.8" y1="352.4" y2="352.4" stroke="#cc4656" stroke-width="0.7"/>
<text class="s" font-size="5.81" x="142.2" y="354.4" textLength="32.4" lengthAdjust="spacingAndGlyphs">Fitted values</text>
<rect x="236.5" y="205.8" width="215.5" height="155.4" fill="#e4f0f0"/>
<rect x="252.5" y="211.4" width="193.5" height="115.3" fill="#fff"/>
<line x1="252.5" x2="446" y1="318.3" y2="318.3" stroke="#eaf2f3" stroke-width="0.8"/>
<line x1="252.5" x2="446" y1="297.6" y2="297.6" stroke="#eaf2f3" stroke-width="0.8"/>
<line x1="252.5" x2="446" y1="276.9" y2="276.9" stroke="#eaf2f3" stroke-width="0.8"/>
<line x1="252.5" x2="446" y1="256.3" y2="256.3" stroke="#eaf2f3" stroke-width="0.8"/>
<line x1="252.5" x2="446" y1="235.6" y2="235.6" stroke="#eaf2f3" stroke-width="0.8"/>
<line x1="252.5" x2="446" y1="214.9" y2="214.9" stroke="#eaf2f3" stroke-width="0.8"/>
<text class="t" x="279.2" y="199.2" font-size="11.2" textLength="129.2" lengthAdjust="spacingAndGlyphs">Money Laundering = f(HDI)</text>
<g fill="#10406f">
<circle cx="323.0" cy="257.8" r="1.42"/><circle cx="328.2" cy="255.5" r="1.42"/><circle cx="330.5" cy="256.5" r="1.42"/><circle cx="327.5" cy="263.0" r="1.42"/><circle cx="337.0" cy="263.0" r="1.42"/><circle cx="340.5" cy="264.5" r="1.42"/><circle cx="342.5" cy="265.3" r="1.42"/><circle cx="344.4" cy="258.1" r="1.42"/><circle cx="348.7" cy="255.8" r="1.42"/><circle cx="349.0" cy="257.8" r="1.42"/><circle cx="352.2" cy="256.2" r="1.42"/><circle cx="354.8" cy="256.2" r="1.42"/><circle cx="349.0" cy="261.7" r="1.42"/><circle cx="345.1" cy="267.5" r="1.42"/><circle cx="347.0" cy="266.9" r="1.42"/><circle cx="348.3" cy="266.2" r="1.42"/><circle cx="362.6" cy="260.1" r="1.42"/><circle cx="366.9" cy="253.9" r="1.42"/><circle cx="317.1" cy="274.4" r="1.42"/><circle cx="314.5" cy="277.9" r="1.42"/><circle cx="313.9" cy="280.5" r="1.42"/><circle cx="323.6" cy="274.0" r="1.42"/><circle cx="324.3" cy="271.0" r="1.42"/><circle cx="326.9" cy="271.4" r="1.42"/><circle cx="328.2" cy="274.7" r="1.42"/><circle cx="326.9" cy="273.4" r="1.42"/><circle cx="332.1" cy="274.0" r="1.42"/><circle cx="334.0" cy="275.3" r="1.42"/><circle cx="333.4" cy="277.9" r="1.42"/><circle cx="335.3" cy="276.6" r="1.42"/><circle cx="336.6" cy="273.4" r="1.42"/><circle cx="337.9" cy="271.4" r="1.42"/><circle cx="336.0" cy="274.7" r="1.42"/><circle cx="349.0" cy="270.8" r="1.42"/><circle cx="350.3" cy="273.4" r="1.42"/><circle cx="351.6" cy="275.3" r="1.42"/><circle cx="352.9" cy="276.0" r="1.42"/><circle cx="354.8" cy="276.6" r="1.42"/><circle cx="351.6" cy="277.9" r="1.42"/><circle cx="346.4" cy="276.6" r="1.42"/><circle cx="361.9" cy="272.7" r="1.42"/><circle cx="367.1" cy="271.4" r="1.42"/><circle cx="365.8" cy="277.9" r="1.42"/><circle cx="337.3" cy="280.5" r="1.42"/><circle cx="341.2" cy="281.2" r="1.42"/><circle cx="355.5" cy="281.8" r="1.42"/><circle cx="345.7" cy="284.4" r="1.42"/><circle cx="347.7" cy="284.0" r="1.42"/><circle cx="358.7" cy="285.1" r="1.42"/><circle cx="364.3" cy="284.0" r="1.42"/><circle cx="317.1" cy="287.0" r="1.42"/><circle cx="344.0" cy="289.0" r="1.42"/><circle cx="370.8" cy="255.8" r="1.42"/><circle cx="379.9" cy="254.5" r="1.42"/><circle cx="383.8" cy="255.8" r="1.42"/><circle cx="386.4" cy="256.5" r="1.42"/><circle cx="388.4" cy="257.5" r="1.42"/><circle cx="389.7" cy="261.0" r="1.42"/><circle cx="392.9" cy="260.6" r="1.42"/><circle cx="392.3" cy="264.9" r="1.42"/><circle cx="404.0" cy="255.8" r="1.42"/><circle cx="368.2" cy="261.7" r="1.42"/><circle cx="369.5" cy="263.6" r="1.42"/><circle cx="370.8" cy="265.6" r="1.42"/><circle cx="373.4" cy="265.6" r="1.42"/><circle cx="375.4" cy="266.2" r="1.42"/><circle cx="378.0" cy="263.6" r="1.42"/><circle cx="378.6" cy="266.2" r="1.42"/><circle cx="381.9" cy="263.0" r="1.42"/><circle cx="397.5" cy="266.2" r="1.42"/><circle cx="398.1" cy="267.5" r="1.42"/><circle cx="403.3" cy="261.7" r="1.42"/><circle cx="405.3" cy="263.0" r="1.42"/><circle cx="407.2" cy="263.6" r="1.42"/><circle cx="409.8" cy="263.6" r="1.42"/><circle cx="412.4" cy="268.2" r="1.42"/><circle cx="408.5" cy="270.1" r="1.42"/><circle cx="368.2" cy="271.4" r="1.42"/><circle cx="368.9" cy="273.1" r="1.42"/><circle cx="384.5" cy="270.1" r="1.42"/><circle cx="385.1" cy="272.1" r="1.42"/><circle cx="387.1" cy="274.0" r="1.42"/><circle cx="383.8" cy="274.0" r="1.42"/><circle cx="378.6" cy="276.6" r="1.42"/><circle cx="381.2" cy="277.3" r="1.42"/><circle cx="386.4" cy="277.9" r="1.42"/><circle cx="391.0" cy="278.8" r="1.42"/><circle cx="394.9" cy="277.0" r="1.42"/><circle cx="372.8" cy="281.2" r="1.42"/><circle cx="374.1" cy="282.2" r="1.42"/><circle cx="379.3" cy="284.0" r="1.42"/><circle cx="383.2" cy="285.1" r="1.42"/><circle cx="384.5" cy="284.0" r="1.42"/><circle cx="385.8" cy="283.1" r="1.42"/><circle cx="387.7" cy="282.2" r="1.42"/><circle cx="389.7" cy="281.8" r="1.42"/><circle cx="407.9" cy="277.9" r="1.42"/><circle cx="409.8" cy="276.6" r="1.42"/><circle cx="411.1" cy="275.3" r="1.42"/><circle cx="371.5" cy="287.7" r="1.42"/><circle cx="387.7" cy="289.2" r="1.42"/><circle cx="296.6" cy="246.5" r="1.42"/><circle cx="299.2" cy="261.2" r="1.42"/><circle cx="300.5" cy="262.2" r="1.42"/><circle cx="304.1" cy="263.5" r="1.42"/><circle cx="309.8" cy="258.8" r="1.42"/><circle cx="284.6" cy="272.1" r="1.42"/><circle cx="290.3" cy="274.4" r="1.42"/><circle cx="295" cy="280.6" r="1.42"/><circle cx="296.8" cy="281.5" r="1.42"/><circle cx="358.3" cy="219.4" r="1.42"/><circle cx="360.4" cy="227.6" r="1.42"/><circle cx="363" cy="228.6" r="1.42"/><circle cx="364.3" cy="239.3" r="1.42"/><circle cx="364.3" cy="245.5" r="1.42"/><circle cx="337.9" cy="290.2" r="1.42"/><circle cx="340.5" cy="291.2" r="1.42"/><circle cx="341.8" cy="289.9" r="1.42"/><circle cx="354.8" cy="292.1" r="1.42"/><circle cx="358.3" cy="291.2" r="1.42"/><circle cx="360.6" cy="292.1" r="1.42"/><circle cx="362.6" cy="293.8" r="1.42"/><circle cx="366.9" cy="295.4" r="1.42"/><circle cx="352.9" cy="302.5" r="1.42"/><circle cx="388.1" cy="230.6" r="1.42"/><circle cx="388.4" cy="232.1" r="1.42"/><circle cx="392" cy="236" r="1.42"/><circle cx="394.2" cy="236.9" r="1.42"/><circle cx="399.4" cy="237.7" r="1.42"/><circle cx="388.1" cy="239.9" r="1.42"/><circle cx="383.8" cy="240.8" r="1.42"/><circle cx="413.3" cy="239.3" r="1.42"/><circle cx="388.6" cy="246.4" r="1.42"/><circle cx="373.4" cy="245.5" r="1.42"/><circle cx="374.7" cy="249" r="1.42"/><circle cx="378" cy="248.6" r="1.42"/><circle cx="384.5" cy="250.3" r="1.42"/><circle cx="383.8" cy="251.6" r="1.42"/><circle cx="375.4" cy="253.3" r="1.42"/><circle cx="403.3" cy="253.3" r="1.42"/><circle cx="376" cy="303.6" r="1.42"/><circle cx="378.6" cy="303.6" r="1.42"/><circle cx="389" cy="308.1" r="1.42"/><circle cx="391" cy="307.7" r="1.42"/><circle cx="416.3" cy="297" r="1.42"/><circle cx="422.8" cy="298.4" r="1.42"/><circle cx="419.3" cy="306.8" r="1.42"/><circle cx="418.2" cy="323.3" r="1.42"/><circle cx="413.5" cy="239.7" r="1.42"/><circle cx="414.8" cy="240" r="1.42"/><circle cx="418" cy="246.1" r="1.42"/><circle cx="420" cy="246.5" r="1.42"/><circle cx="429.3" cy="249.5" r="1.42"/><circle cx="416.2" cy="255.7" r="1.42"/><circle cx="418.2" cy="256.1" r="1.42"/><circle cx="422.7" cy="256.6" r="1.42"/><circle cx="426.5" cy="258.4" r="1.42"/><circle cx="413.9" cy="268.9" r="1.42"/><circle cx="415.2" cy="268.4" r="1.42"/><circle cx="415.9" cy="270" r="1.42"/><circle cx="418" cy="272" r="1.42"/><circle cx="419.3" cy="272.7" r="1.42"/><circle cx="420" cy="266.6" r="1.42"/><circle cx="425.5" cy="270.7" r="1.42"/><circle cx="429.3" cy="265.6" r="1.42"/><circle cx="431.6" cy="268.6" r="1.42"/><circle cx="432.3" cy="267.5" r="1.42"/><circle cx="435.3" cy="265.2" r="1.42"/><circle cx="432.3" cy="276.5" r="1.42"/><circle cx="422.7" cy="275.5" r="1.42"/><circle cx="421.4" cy="275.7" r="1.42"/><circle cx="414.3" cy="285" r="1.42"/><circle cx="318" cy="239.8" r="1.42"/><circle cx="321" cy="240.8" r="1.42"/><circle cx="315.4" cy="249" r="1.42"/>
</g>
<line x1="284.6" y1="271.0" x2="435.3" y2="265.9" stroke="#cc4656" stroke-width="0.95"/>
<line x1="252.5" x2="252.5" y1="211.4" y2="326.7" stroke="#7d8183" stroke-width="0.8"/>
<line x1="252.5" x2="446" y1="326.7" y2="326.7" stroke="#7d8183" stroke-width="0.8"/>
<line x1="250.5" x2="252.5" y1="318.3" y2="318.3" stroke="#7d8183" stroke-width="0.6"/>
<text class="s" font-size="5.73" text-anchor="middle" transform="translate(248.5,318.3) rotate(-90)" dy="0">2</text>
<line x1="250.5" x2="252.5" y1="297.6" y2="297.6" stroke="#7d8183" stroke-width="0.6"/>
<text class="s" font-size="5.73" text-anchor="middle" transform="translate(248.5,297.6) rotate(-90)" dy="0">3</text>
<line x1="250.5" x2="252.5" y1="276.9" y2="276.9" stroke="#7d8183" stroke-width="0.6"/>
<text class="s" font-size="5.73" text-anchor="middle" transform="translate(248.5,276.9) rotate(-90)" dy="0">4</text>
<line x1="250.5" x2="252.5" y1="256.3" y2="256.3" stroke="#7d8183" stroke-width="0.6"/>
<text class="s" font-size="5.73" text-anchor="middle" transform="translate(248.5,256.3) rotate(-90)" dy="0">5</text>
<line x1="250.5" x2="252.5" y1="235.6" y2="235.6" stroke="#7d8183" stroke-width="0.6"/>
<text class="s" font-size="5.73" text-anchor="middle" transform="translate(248.5,235.6) rotate(-90)" dy="0">6</text>
<line x1="250.5" x2="252.5" y1="214.9" y2="214.9" stroke="#7d8183" stroke-width="0.6"/>
<text class="s" font-size="5.73" text-anchor="middle" transform="translate(248.5,214.9) rotate(-90)" dy="0">7</text>
<line x1="255" x2="255" y1="326.7" y2="328.7" stroke="#7d8183" stroke-width="0.6"/>
<text class="s" font-size="5.73" text-anchor="middle" x="255" y="334.2">.75</text>
<line x1="302" x2="302" y1="326.7" y2="328.7" stroke="#7d8183" stroke-width="0.6"/>
<text class="s" font-size="5.73" text-anchor="middle" x="302" y="334.2">.8</text>
<line x1="349" x2="349" y1="326.7" y2="328.7" stroke="#7d8183" stroke-width="0.6"/>
<text class="s" font-size="5.73" text-anchor="middle" x="349" y="334.2">.85</text>
<line x1="396" x2="396" y1="326.7" y2="328.7" stroke="#7d8183" stroke-width="0.6"/>
<text class="s" font-size="5.73" text-anchor="middle" x="396" y="334.2">.9</text>
<line x1="443" x2="443" y1="326.7" y2="328.7" stroke="#7d8183" stroke-width="0.6"/>
<text class="s" font-size="5.73" text-anchor="middle" x="443" y="334.2">.95</text>
<text class="s" font-size="5.73" text-anchor="middle" x="349.2" y="339.5">HDI</text>
<rect x="290.1" y="344.1" width="118.5" height="10.9" fill="#fff" stroke="#7d8183" stroke-width="0.7"/>
<circle cx="294.0" cy="349.6" r="1.45" fill="#10406f"/>
<text class="s" font-size="5.73" x="298.5" y="351.6" textLength="44.2" lengthAdjust="spacingAndGlyphs">MoneyLaundering</text>
<line x1="350.3" x2="370.8" y1="349.6" y2="349.6" stroke="#cc4656" stroke-width="0.7"/>
<text class="s" font-size="5.73" x="374.5" y="351.6" textLength="30.9" lengthAdjust="spacingAndGlyphs">Fitted values</text>
<rect x="7.1" y="387" width="210.0" height="153.0" fill="#e4f0f0"/>
<rect x="22.5" y="392.3" width="189.5" height="113.0" fill="#fff"/>
<line x1="22.5" x2="212" y1="497.3" y2="497.3" stroke="#eaf2f3" stroke-width="0.8"/>
<line x1="22.5" x2="212" y1="476.9" y2="476.9" stroke="#eaf2f3" stroke-width="0.8"/>
<line x1="22.5" x2="212" y1="456.6" y2="456.6" stroke="#eaf2f3" stroke-width="0.8"/>
<line x1="22.5" x2="212" y1="436.2" y2="436.2" stroke="#eaf2f3" stroke-width="0.8"/>
<line x1="22.5" x2="212" y1="416.0" y2="416.0" stroke="#eaf2f3" stroke-width="0.8"/>
<line x1="22.5" x2="212" y1="395.6" y2="395.6" stroke="#eaf2f3" stroke-width="0.8"/>
<text class="t" x="59.1" y="380.3" font-size="11.2" textLength="105.9" lengthAdjust="spacingAndGlyphs">Cybersecurity = f(GDP)</text>
<g fill="#10406f">
<circle cx="66.8" cy="412.3" r="1.42"/><circle cx="69.0" cy="412.3" r="1.42"/><circle cx="71.2" cy="412.3" r="1.42"/><circle cx="73.4" cy="412.3" r="1.42"/><circle cx="75.5" cy="412.3" r="1.42"/><circle cx="77.7" cy="412.3" r="1.42"/><circle cx="79.9" cy="412.3" r="1.42"/><circle cx="82.1" cy="412.3" r="1.42"/><circle cx="34.3" cy="414.7" r="1.42"/><circle cx="36.4" cy="414.7" r="1.42"/><circle cx="38.5" cy="414.7" r="1.42"/><circle cx="40.6" cy="414.7" r="1.42"/><circle cx="42.8" cy="414.7" r="1.42"/><circle cx="44.9" cy="414.7" r="1.42"/><circle cx="47.0" cy="414.7" r="1.42"/><circle cx="49.1" cy="414.7" r="1.42"/><circle cx="51.2" cy="414.7" r="1.42"/><circle cx="54.1" cy="415.4" r="1.42"/><circle cx="54.1" cy="415.4" r="1.42"/><circle cx="56.0" cy="416.4" r="1.42"/><circle cx="58.2" cy="416.4" r="1.42"/><circle cx="60.4" cy="416.4" r="1.42"/><circle cx="62.6" cy="416.4" r="1.42"/><circle cx="64.8" cy="416.4" r="1.42"/><circle cx="67.0" cy="416.4" r="1.42"/><circle cx="69.2" cy="416.4" r="1.42"/><circle cx="75.6" cy="419.1" r="1.42"/><circle cx="75.6" cy="419.1" r="1.42"/><circle cx="78.5" cy="419.1" r="1.42"/><circle cx="80.8" cy="419.1" r="1.42"/><circle cx="83.2" cy="419.1" r="1.42"/><circle cx="85.5" cy="419.1" r="1.42"/><circle cx="87.8" cy="419.1" r="1.42"/><circle cx="90.2" cy="419.1" r="1.42"/><circle cx="92.5" cy="419.1" r="1.42"/><circle cx="95.0" cy="419.1" r="1.42"/><circle cx="97.0" cy="419.1" r="1.42"/><circle cx="123.5" cy="418.9" r="1.42"/><circle cx="123.5" cy="418.9" r="1.42"/><circle cx="134.5" cy="418.8" r="1.42"/><circle cx="134.5" cy="418.8" r="1.42"/><circle cx="148.5" cy="418.8" r="1.42"/><circle cx="150.7" cy="418.8" r="1.42"/><circle cx="152.8" cy="418.8" r="1.42"/><circle cx="155.0" cy="418.8" r="1.42"/><circle cx="157.2" cy="418.8" r="1.42"/><circle cx="163.3" cy="418.8" r="1.42"/><circle cx="165.4" cy="418.8" r="1.42"/><circle cx="167.4" cy="418.8" r="1.42"/><circle cx="169.4" cy="418.8" r="1.42"/><circle cx="171.5" cy="418.8" r="1.42"/><circle cx="71.9" cy="424.4" r="1.42"/><circle cx="74.1" cy="424.4" r="1.42"/><circle cx="76.4" cy="424.4" r="1.42"/><circle cx="78.6" cy="424.4" r="1.42"/><circle cx="80.9" cy="424.4" r="1.42"/><circle cx="83.1" cy="424.4" r="1.42"/><circle cx="85.3" cy="424.4" r="1.42"/><circle cx="87.6" cy="424.4" r="1.42"/><circle cx="89.8" cy="424.4" r="1.42"/><circle cx="92.1" cy="424.4" r="1.42"/><circle cx="94.3" cy="424.4" r="1.42"/><circle cx="96.5" cy="424.4" r="1.42"/><circle cx="98.8" cy="424.4" r="1.42"/><circle cx="101.0" cy="424.4" r="1.42"/><circle cx="103.3" cy="424.4" r="1.42"/><circle cx="105.5" cy="424.4" r="1.42"/><circle cx="72.5" cy="426.1" r="1.42"/><circle cx="74.8" cy="426.1" r="1.42"/><circle cx="77.0" cy="426.1" r="1.42"/><circle cx="79.2" cy="426.1" r="1.42"/><circle cx="81.5" cy="426.1" r="1.42"/><circle cx="83.8" cy="426.1" r="1.42"/><circle cx="86.0" cy="426.1" r="1.42"/><circle cx="88.2" cy="426.1" r="1.42"/><circle cx="90.5" cy="426.1" r="1.42"/><circle cx="92.8" cy="426.1" r="1.42"/><circle cx="95.0" cy="426.1" r="1.42"/><circle cx="97.2" cy="426.1" r="1.42"/><circle cx="99.5" cy="426.1" r="1.42"/><circle cx="101.8" cy="426.1" r="1.42"/><circle cx="104.0" cy="426.1" r="1.42"/><circle cx="37.8" cy="428.2" r="1.42"/><circle cx="40.1" cy="428.2" r="1.42"/><circle cx="42.3" cy="428.2" r="1.42"/><circle cx="44.6" cy="428.2" r="1.42"/><circle cx="46.9" cy="428.2" r="1.42"/><circle cx="61.6" cy="428.6" r="1.42"/><circle cx="63.8" cy="428.6" r="1.42"/><circle cx="66.1" cy="428.6" r="1.42"/><circle cx="68.3" cy="428.6" r="1.42"/><circle cx="70.6" cy="428.6" r="1.42"/><circle cx="72.8" cy="428.6" r="1.42"/><circle cx="75.1" cy="428.6" r="1.42"/><circle cx="77.3" cy="428.6" r="1.42"/><circle cx="67.6" cy="426.1" r="1.42"/><circle cx="69.7" cy="426.1" r="1.42"/><circle cx="77.3" cy="431" r="1.42"/><circle cx="79.4" cy="431" r="1.42"/><circle cx="81.5" cy="431" r="1.42"/><circle cx="83.5" cy="431" r="1.42"/><circle cx="85.6" cy="431" r="1.42"/><circle cx="87.7" cy="431" r="1.42"/><circle cx="89.8" cy="431" r="1.42"/><circle cx="35.2" cy="433.1" r="1.42"/><circle cx="37.6" cy="433.1" r="1.42"/><circle cx="40.0" cy="433.1" r="1.42"/><circle cx="42.5" cy="433.1" r="1.42"/><circle cx="44.9" cy="433.1" r="1.42"/><circle cx="47.3" cy="433.1" r="1.42"/><circle cx="69.7" cy="434" r="1.42"/><circle cx="71.9" cy="434" r="1.42"/><circle cx="74.2" cy="434" r="1.42"/><circle cx="76.4" cy="434" r="1.42"/><circle cx="78.7" cy="434" r="1.42"/><circle cx="80.9" cy="434" r="1.42"/><circle cx="83.2" cy="434" r="1.42"/><circle cx="85.4" cy="434" r="1.42"/><circle cx="87.6" cy="434" r="1.42"/><circle cx="89.9" cy="434" r="1.42"/><circle cx="92.1" cy="434" r="1.42"/><circle cx="94.4" cy="434" r="1.42"/><circle cx="96.6" cy="434" r="1.42"/><circle cx="98.9" cy="434" r="1.42"/><circle cx="101.1" cy="434" r="1.42"/><circle cx="84.5" cy="439.5" r="1.42"/><circle cx="86.8" cy="439.5" r="1.42"/><circle cx="89.1" cy="439.5" r="1.42"/><circle cx="91.4" cy="439.5" r="1.42"/><circle cx="93.7" cy="439.5" r="1.42"/><circle cx="96.0" cy="439.5" r="1.42"/><circle cx="100.2" cy="439.7" r="1.42"/><circle cx="102.0" cy="439.7" r="1.42"/><circle cx="103.7" cy="439.7" r="1.42"/><circle cx="110.6" cy="439.7" r="1.42"/><circle cx="110.6" cy="439.7" r="1.42"/><circle cx="121.5" cy="439.4" r="1.42"/><circle cx="121.5" cy="439.4" r="1.42"/><circle cx="48.0" cy="444.8" r="1.42"/><circle cx="50.2" cy="444.8" r="1.42"/><circle cx="52.5" cy="444.8" r="1.42"/><circle cx="54.8" cy="444.8" r="1.42"/><circle cx="57.0" cy="444.8" r="1.42"/><circle cx="34.3" cy="446.7" r="1.42"/><circle cx="36.5" cy="446.7" r="1.42"/><circle cx="38.8" cy="446.7" r="1.42"/><circle cx="41.0" cy="446.7" r="1.42"/><circle cx="43.3" cy="446.7" r="1.42"/><circle cx="45.5" cy="446.7" r="1.42"/><circle cx="47.8" cy="446.7" r="1.42"/><circle cx="50.0" cy="446.7" r="1.42"/><circle cx="39.5" cy="450.8" r="1.42"/><circle cx="41.7" cy="450.8" r="1.42"/><circle cx="43.9" cy="450.8" r="1.42"/><circle cx="46.2" cy="450.8" r="1.42"/><circle cx="48.4" cy="450.8" r="1.42"/><circle cx="50.6" cy="450.8" r="1.42"/><circle cx="29.8" cy="452.5" r="1.42"/><circle cx="32.1" cy="452.5" r="1.42"/><circle cx="34.4" cy="452.5" r="1.42"/><circle cx="36.6" cy="452.5" r="1.42"/><circle cx="38.9" cy="452.5" r="1.42"/><circle cx="46.7" cy="456.7" r="1.42"/><circle cx="49.0" cy="456.7" r="1.42"/><circle cx="51.3" cy="456.7" r="1.42"/><circle cx="53.5" cy="456.7" r="1.42"/><circle cx="55.8" cy="456.7" r="1.42"/><circle cx="58.1" cy="456.7" r="1.42"/><circle cx="60.4" cy="456.7" r="1.42"/><circle cx="53.2" cy="466.5" r="1.42"/><circle cx="55.4" cy="466.5" r="1.42"/><circle cx="57.6" cy="466.5" r="1.42"/><circle cx="59.9" cy="466.5" r="1.42"/><circle cx="62.1" cy="466.5" r="1.42"/><circle cx="64.3" cy="466.5" r="1.42"/><circle cx="66.5" cy="466.5" r="1.42"/><circle cx="69.5" cy="466.5" r="1.42"/><circle cx="69.5" cy="466.5" r="1.42"/><circle cx="31.1" cy="483.5" r="1.42"/><circle cx="33.3" cy="483.5" r="1.42"/><circle cx="35.5" cy="483.5" r="1.42"/><circle cx="37.7" cy="483.5" r="1.42"/><circle cx="39.9" cy="483.5" r="1.42"/><circle cx="42.1" cy="483.5" r="1.42"/><circle cx="44.2" cy="483.5" r="1.42"/><circle cx="46.4" cy="483.5" r="1.42"/><circle cx="48.6" cy="483.5" r="1.42"/><circle cx="50.8" cy="483.5" r="1.42"/><circle cx="53.0" cy="483.5" r="1.42"/><circle cx="55.2" cy="483.5" r="1.42"/><circle cx="47.3" cy="492.2" r="1.42"/><circle cx="49.6" cy="492.2" r="1.42"/><circle cx="51.9" cy="492.2" r="1.42"/><circle cx="54.2" cy="492.2" r="1.42"/><circle cx="56.4" cy="492.2" r="1.42"/><circle cx="58.7" cy="492.2" r="1.42"/><circle cx="61.0" cy="492.2" r="1.42"/><circle cx="63.3" cy="492.2" r="1.42"/><circle cx="65.6" cy="492.2" r="1.42"/><circle cx="44.7" cy="501.5" r="1.42"/><circle cx="46.8" cy="501.5" r="1.42"/><circle cx="48.9" cy="501.5" r="1.42"/><circle cx="51.0" cy="501.5" r="1.42"/><circle cx="53.1" cy="501.5" r="1.42"/><circle cx="55.2" cy="501.5" r="1.42"/><circle cx="57.3" cy="501.5" r="1.42"/><circle cx="59.4" cy="501.5" r="1.42"/><circle cx="61.5" cy="501.5" r="1.42"/><circle cx="63.6" cy="501.5" r="1.42"/>
</g>
<line x1="29.8" y1="453.2" x2="170.6" y2="404.5" stroke="#cc4656" stroke-width="0.95"/>
<line x1="22.5" x2="22.5" y1="392.3" y2="505.3" stroke="#7d8183" stroke-width="0.8"/>
<line x1="22.5" x2="212" y1="505.3" y2="505.3" stroke="#7d8183" stroke-width="0.8"/>
<line x1="20.5" x2="22.5" y1="497.3" y2="497.3" stroke="#7d8183" stroke-width="0.6"/>
<text class="s" font-size="5.59" text-anchor="middle" transform="translate(18.5,497.3) rotate(-90)" dy="0">.5</text>
<line x1="20.5" x2="22.5" y1="476.9" y2="476.9" stroke="#7d8183" stroke-width="0.6"/>
<text class="s" font-size="5.59" text-anchor="middle" transform="translate(18.5,476.9) rotate(-90)" dy="0">.6</text>
<line x1="20.5" x2="22.5" y1="456.6" y2="456.6" stroke="#7d8183" stroke-width="0.6"/>
<text class="s" font-size="5.59" text-anchor="middle" transform="translate(18.5,456.6) rotate(-90)" dy="0">.7</text>
<line x1="20.5" x2="22.5" y1="436.2" y2="436.2" stroke="#7d8183" stroke-width="0.6"/>
<text class="s" font-size="5.59" text-anchor="middle" transform="translate(18.5,436.2) rotate(-90)" dy="0">.8</text>
<line x1="20.5" x2="22.5" y1="416.0" y2="416.0" stroke="#7d8183" stroke-width="0.6"/>
<text class="s" font-size="5.59" text-anchor="middle" transform="translate(18.5,416.0) rotate(-90)" dy="0">.9</text>
<line x1="20.5" x2="22.5" y1="395.6" y2="395.6" stroke="#7d8183" stroke-width="0.6"/>
<text class="s" font-size="5.59" text-anchor="middle" transform="translate(18.5,395.6) rotate(-90)" dy="0">1</text>
<line x1="25.8" x2="25.8" y1="505.3" y2="507.3" stroke="#7d8183" stroke-width="0.6"/>
<text class="s" font-size="5.59" text-anchor="middle" x="25.8" y="512.8">0</text>
<line x1="86.7" x2="86.7" y1="505.3" y2="507.3" stroke="#7d8183" stroke-width="0.6"/>
<text class="s" font-size="5.59" text-anchor="middle" x="86.7" y="512.8">50000</text>
<line x1="147.6" x2="147.6" y1="505.3" y2="507.3" stroke="#7d8183" stroke-width="0.6"/>
<text class="s" font-size="5.59" text-anchor="middle" x="147.6" y="512.8">100000</text>
<line x1="208.5" x2="208.5" y1="505.3" y2="507.3" stroke="#7d8183" stroke-width="0.6"/>
<text class="s" font-size="5.59" text-anchor="middle" x="208.5" y="512.8">150000</text>
<text class="s" font-size="5.59" text-anchor="middle" x="117.2" y="517.5">GDP</text>
<rect x="63.9" y="522.7" width="105.6" height="10.0" fill="#fff" stroke="#7d8183" stroke-width="0.7"/>
<circle cx="68.0" cy="527.7" r="1.45" fill="#10406f"/>
<text class="s" font-size="5.59" x="72.4" y="529.7" textLength="32.4" lengthAdjust="spacingAndGlyphs">Cybersecurity</text>
<line x1="112.8" x2="132.9" y1="527.7" y2="527.7" stroke="#cc4656" stroke-width="0.7"/>
<text class="s" font-size="5.59" x="135.9" y="529.7" textLength="30.6" lengthAdjust="spacingAndGlyphs">Fitted values</text>
<rect x="236.5" y="387" width="215.5" height="156.2" fill="#e4f0f0"/>
<rect x="252.7" y="392.3" width="193.3" height="115.9" fill="#fff"/>
<line x1="252.7" x2="446" y1="499.5" y2="499.5" stroke="#eaf2f3" stroke-width="0.8"/>
<line x1="252.7" x2="446" y1="474.7" y2="474.7" stroke="#eaf2f3" stroke-width="0.8"/>
<line x1="252.7" x2="446" y1="449.8" y2="449.8" stroke="#eaf2f3" stroke-width="0.8"/>
<line x1="252.7" x2="446" y1="425.0" y2="425.0" stroke="#eaf2f3" stroke-width="0.8"/>
<line x1="252.7" x2="446" y1="400.1" y2="400.1" stroke="#eaf2f3" stroke-width="0.8"/>
<text class="t" x="291.9" y="380.3" font-size="11.2" textLength="104.2" lengthAdjust="spacingAndGlyphs">Cybersecurity = f(HDI)</text>
<g fill="#10406f">
<circle cx="367.0" cy="395.9" r="1.42"/><circle cx="369.3" cy="395.9" r="1.42"/><circle cx="371.6" cy="395.9" r="1.42"/><circle cx="373.9" cy="395.9" r="1.42"/><circle cx="376.1" cy="395.9" r="1.42"/><circle cx="378.4" cy="395.9" r="1.42"/><circle cx="380.7" cy="395.9" r="1.42"/><circle cx="383.0" cy="395.9" r="1.42"/><circle cx="385.3" cy="395.9" r="1.42"/><circle cx="387.5" cy="395.9" r="1.42"/><circle cx="389.8" cy="395.9" r="1.42"/><circle cx="392.1" cy="395.9" r="1.42"/><circle cx="394.4" cy="395.9" r="1.42"/><circle cx="308.6" cy="398.2" r="1.42"/><circle cx="308.6" cy="398.2" r="1.42"/><circle cx="312.1" cy="398.2" r="1.42"/><circle cx="313.4" cy="398.2" r="1.42"/><circle cx="320.6" cy="398.2" r="1.42"/><circle cx="322.9" cy="398.2" r="1.42"/><circle cx="325.2" cy="398.2" r="1.42"/><circle cx="327.5" cy="398.2" r="1.42"/><circle cx="329.8" cy="398.2" r="1.42"/><circle cx="332.2" cy="398.2" r="1.42"/><circle cx="334.5" cy="398.2" r="1.42"/><circle cx="336.8" cy="398.2" r="1.42"/><circle cx="339.1" cy="398.2" r="1.42"/><circle cx="341.4" cy="398.2" r="1.42"/><circle cx="342.7" cy="398.5" r="1.42"/><circle cx="344.9" cy="398.5" r="1.42"/><circle cx="347.0" cy="398.5" r="1.42"/><circle cx="349.2" cy="398.5" r="1.42"/><circle cx="353.7" cy="398.8" r="1.42"/><circle cx="355.8" cy="398.8" r="1.42"/><circle cx="358.0" cy="398.8" r="1.42"/><circle cx="360.1" cy="398.8" r="1.42"/><circle cx="362.3" cy="398.8" r="1.42"/><circle cx="364.4" cy="398.8" r="1.42"/><circle cx="366.6" cy="398.8" r="1.42"/><circle cx="368.8" cy="398.8" r="1.42"/><circle cx="370.9" cy="398.8" r="1.42"/><circle cx="373.1" cy="398.8" r="1.42"/><circle cx="375.2" cy="398.8" r="1.42"/><circle cx="377.4" cy="398.8" r="1.42"/><circle cx="379.5" cy="398.8" r="1.42"/><circle cx="354.0" cy="400.5" r="1.42"/><circle cx="356.3" cy="400.5" r="1.42"/><circle cx="358.6" cy="400.5" r="1.42"/><circle cx="360.8" cy="400.5" r="1.42"/><circle cx="363.1" cy="400.5" r="1.42"/><circle cx="365.4" cy="400.5" r="1.42"/><circle cx="367.7" cy="400.5" r="1.42"/><circle cx="370.0" cy="400.5" r="1.42"/><circle cx="372.2" cy="400.5" r="1.42"/><circle cx="374.5" cy="400.5" r="1.42"/><circle cx="376.8" cy="400.5" r="1.42"/><circle cx="360.0" cy="401.7" r="1.42"/><circle cx="362.2" cy="401.7" r="1.42"/><circle cx="364.3" cy="401.7" r="1.42"/><circle cx="366.5" cy="401.7" r="1.42"/><circle cx="368.7" cy="401.7" r="1.42"/><circle cx="370.8" cy="401.7" r="1.42"/><circle cx="373.0" cy="401.7" r="1.42"/><circle cx="375.2" cy="401.7" r="1.42"/><circle cx="377.3" cy="401.7" r="1.42"/><circle cx="379.5" cy="401.7" r="1.42"/><circle cx="383.4" cy="401.1" r="1.42"/><circle cx="385.6" cy="401.1" r="1.42"/><circle cx="387.9" cy="401.1" r="1.42"/><circle cx="390.1" cy="401.1" r="1.42"/><circle cx="392.3" cy="401.1" r="1.42"/><circle cx="394.5" cy="401.1" r="1.42"/><circle cx="396.8" cy="401.1" r="1.42"/><circle cx="399.0" cy="401.1" r="1.42"/><circle cx="372.5" cy="404" r="1.42"/><circle cx="374.7" cy="404" r="1.42"/><circle cx="377.0" cy="404" r="1.42"/><circle cx="379.2" cy="404" r="1.42"/><circle cx="381.5" cy="404" r="1.42"/><circle cx="383.7" cy="404" r="1.42"/><circle cx="385.9" cy="404" r="1.42"/><circle cx="388.2" cy="404" r="1.42"/><circle cx="390.4" cy="404" r="1.42"/><circle cx="392.7" cy="404" r="1.42"/><circle cx="394.9" cy="404" r="1.42"/><circle cx="397.1" cy="404" r="1.42"/><circle cx="399.4" cy="404" r="1.42"/><circle cx="401.6" cy="404" r="1.42"/><circle cx="403.9" cy="404" r="1.42"/><circle cx="406.1" cy="404" r="1.42"/><circle cx="414.5" cy="404" r="1.42"/><circle cx="417.0" cy="404" r="1.42"/><circle cx="419.5" cy="404" r="1.42"/><circle cx="421.8" cy="404" r="1.42"/><circle cx="423.8" cy="404" r="1.42"/><circle cx="425.7" cy="404" r="1.42"/><circle cx="427.7" cy="404" r="1.42"/><circle cx="366.5" cy="411.5" r="1.42"/><circle cx="368.9" cy="411.5" r="1.42"/><circle cx="371.4" cy="411.5" r="1.42"/><circle cx="373.8" cy="411.5" r="1.42"/><circle cx="376.2" cy="411.5" r="1.42"/><circle cx="380.1" cy="411.5" r="1.42"/><circle cx="382.3" cy="411.5" r="1.42"/><circle cx="384.5" cy="411.5" r="1.42"/><circle cx="386.7" cy="411.5" r="1.42"/><circle cx="388.9" cy="411.5" r="1.42"/><circle cx="391.1" cy="411.5" r="1.42"/><circle cx="393.3" cy="411.5" r="1.42"/><circle cx="395.5" cy="411.5" r="1.42"/><circle cx="397.7" cy="411.5" r="1.42"/><circle cx="399.9" cy="411.5" r="1.42"/><circle cx="402.1" cy="411.5" r="1.42"/><circle cx="404.3" cy="411.5" r="1.42"/><circle cx="406.5" cy="411.5" r="1.42"/><circle cx="408.7" cy="411.5" r="1.42"/><circle cx="410.9" cy="411.5" r="1.42"/><circle cx="413.1" cy="411.5" r="1.42"/><circle cx="415.3" cy="411.5" r="1.42"/><circle cx="417.5" cy="411.5" r="1.42"/><circle cx="419.7" cy="411.5" r="1.42"/><circle cx="410.0" cy="412.5" r="1.42"/><circle cx="412.1" cy="412.5" r="1.42"/><circle cx="414.1" cy="412.5" r="1.42"/><circle cx="416.2" cy="412.5" r="1.42"/><circle cx="418.3" cy="412.5" r="1.42"/><circle cx="420.4" cy="412.5" r="1.42"/><circle cx="422.4" cy="412.5" r="1.42"/><circle cx="424.5" cy="412.5" r="1.42"/><circle cx="428.2" cy="412.5" r="1.42"/><circle cx="430.9" cy="412.5" r="1.42"/><circle cx="433.6" cy="412.5" r="1.42"/><circle cx="400.0" cy="413" r="1.42"/><circle cx="402.2" cy="413" r="1.42"/><circle cx="404.4" cy="413" r="1.42"/><circle cx="406.7" cy="413" r="1.42"/><circle cx="408.9" cy="413" r="1.42"/><circle cx="411.1" cy="413" r="1.42"/><circle cx="413.3" cy="413" r="1.42"/><circle cx="415.6" cy="413" r="1.42"/><circle cx="417.8" cy="413" r="1.42"/><circle cx="420.0" cy="413" r="1.42"/><circle cx="286.5" cy="415.4" r="1.42"/><circle cx="286.5" cy="415.4" r="1.42"/><circle cx="295.9" cy="415.4" r="1.42"/><circle cx="295.9" cy="415.4" r="1.42"/><circle cx="302.1" cy="415.4" r="1.42"/><circle cx="305.0" cy="415.4" r="1.42"/><circle cx="309.5" cy="415.6" r="1.42"/><circle cx="309.5" cy="415.6" r="1.42"/><circle cx="315.4" cy="415.6" r="1.42"/><circle cx="317.6" cy="415.6" r="1.42"/><circle cx="319.7" cy="415.6" r="1.42"/><circle cx="321.9" cy="415.6" r="1.42"/><circle cx="324.1" cy="415.6" r="1.42"/><circle cx="326.2" cy="415.6" r="1.42"/><circle cx="328.4" cy="415.6" r="1.42"/><circle cx="331.6" cy="415.6" r="1.42"/><circle cx="333.6" cy="415.6" r="1.42"/><circle cx="335.5" cy="415.6" r="1.42"/><circle cx="337.5" cy="415.6" r="1.42"/><circle cx="353.7" cy="415.6" r="1.42"/><circle cx="353.7" cy="415.6" r="1.42"/><circle cx="356.3" cy="416" r="1.42"/><circle cx="358.5" cy="416" r="1.42"/><circle cx="360.7" cy="416" r="1.42"/><circle cx="362.9" cy="416" r="1.42"/><circle cx="365.0" cy="416" r="1.42"/><circle cx="367.2" cy="416" r="1.42"/><circle cx="369.4" cy="416" r="1.42"/><circle cx="371.6" cy="416" r="1.42"/><circle cx="373.8" cy="416" r="1.42"/><circle cx="376.0" cy="416" r="1.42"/><circle cx="378.1" cy="416" r="1.42"/><circle cx="380.3" cy="416" r="1.42"/><circle cx="382.5" cy="416" r="1.42"/><circle cx="384.7" cy="416" r="1.42"/><circle cx="356.3" cy="418.2" r="1.42"/><circle cx="358.5" cy="418.2" r="1.42"/><circle cx="360.7" cy="418.2" r="1.42"/><circle cx="362.9" cy="418.2" r="1.42"/><circle cx="365.0" cy="418.2" r="1.42"/><circle cx="367.2" cy="418.2" r="1.42"/><circle cx="369.4" cy="418.2" r="1.42"/><circle cx="371.6" cy="418.2" r="1.42"/><circle cx="373.8" cy="418.2" r="1.42"/><circle cx="376.0" cy="418.2" r="1.42"/><circle cx="378.1" cy="418.2" r="1.42"/><circle cx="380.3" cy="418.2" r="1.42"/><circle cx="382.5" cy="418.2" r="1.42"/><circle cx="384.7" cy="418.2" r="1.42"/><circle cx="304.3" cy="422.1" r="1.42"/><circle cx="304.3" cy="422.1" r="1.42"/><circle cx="310.1" cy="422.4" r="1.42"/><circle cx="312.3" cy="422.4" r="1.42"/><circle cx="314.6" cy="422.4" r="1.42"/><circle cx="316.8" cy="422.4" r="1.42"/><circle cx="319.1" cy="422.4" r="1.42"/><circle cx="321.3" cy="422.4" r="1.42"/><circle cx="323.6" cy="422.4" r="1.42"/><circle cx="325.8" cy="422.4" r="1.42"/><circle cx="332.9" cy="422.5" r="1.42"/><circle cx="335.0" cy="422.5" r="1.42"/><circle cx="337.2" cy="422.5" r="1.42"/><circle cx="339.3" cy="422.5" r="1.42"/><circle cx="341.5" cy="422.5" r="1.42"/><circle cx="343.6" cy="422.5" r="1.42"/><circle cx="345.8" cy="422.5" r="1.42"/><circle cx="347.9" cy="422.5" r="1.42"/><circle cx="350.5" cy="422.5" r="1.42"/><circle cx="352.6" cy="422.5" r="1.42"/><circle cx="354.6" cy="422.5" r="1.42"/><circle cx="356.7" cy="422.5" r="1.42"/><circle cx="358.8" cy="422.5" r="1.42"/><circle cx="360.9" cy="422.5" r="1.42"/><circle cx="362.9" cy="422.5" r="1.42"/><circle cx="365.0" cy="422.5" r="1.42"/><circle cx="362.6" cy="421.2" r="1.42"/><circle cx="364.8" cy="421.2" r="1.42"/><circle cx="366.9" cy="421.2" r="1.42"/><circle cx="369.1" cy="421.2" r="1.42"/><circle cx="371.3" cy="421.2" r="1.42"/><circle cx="373.4" cy="421.2" r="1.42"/><circle cx="375.6" cy="421.2" r="1.42"/><circle cx="377.8" cy="421.2" r="1.42"/><circle cx="379.9" cy="421.2" r="1.42"/><circle cx="382.1" cy="421.2" r="1.42"/><circle cx="384.3" cy="421.2" r="1.42"/><circle cx="386.4" cy="421.2" r="1.42"/><circle cx="388.6" cy="421.2" r="1.42"/><circle cx="390.8" cy="421.2" r="1.42"/><circle cx="393.0" cy="421.2" r="1.42"/><circle cx="395.1" cy="421.2" r="1.42"/><circle cx="397.3" cy="421.2" r="1.42"/><circle cx="399.5" cy="421.2" r="1.42"/><circle cx="401.6" cy="421.2" r="1.42"/><circle cx="403.8" cy="421.2" r="1.42"/><circle cx="406.0" cy="421.2" r="1.42"/><circle cx="408.1" cy="421.2" r="1.42"/><circle cx="410.3" cy="421.2" r="1.42"/><circle cx="412.5" cy="421.2" r="1.42"/><circle cx="414.6" cy="421.2" r="1.42"/><circle cx="416.8" cy="421.2" r="1.42"/><circle cx="402.9" cy="419.3" r="1.42"/><circle cx="405.3" cy="419.3" r="1.42"/><circle cx="407.6" cy="419.3" r="1.42"/><circle cx="410.0" cy="419.3" r="1.42"/><circle cx="412.4" cy="419.3" r="1.42"/><circle cx="414.7" cy="419.3" r="1.42"/><circle cx="417.1" cy="419.3" r="1.42"/><circle cx="390.5" cy="429.2" r="1.42"/><circle cx="392.5" cy="429.2" r="1.42"/><circle cx="397.7" cy="429.2" r="1.42"/><circle cx="397.7" cy="429.2" r="1.42"/><circle cx="401.6" cy="429.2" r="1.42"/><circle cx="403.9" cy="429.2" r="1.42"/><circle cx="406.1" cy="429.2" r="1.42"/><circle cx="413.9" cy="429.2" r="1.42"/><circle cx="415.9" cy="429.2" r="1.42"/><circle cx="417.8" cy="429.2" r="1.42"/><circle cx="428.6" cy="429.3" r="1.42"/><circle cx="430.6" cy="429.3" r="1.42"/><circle cx="432.5" cy="429.3" r="1.42"/><circle cx="434.4" cy="429.3" r="1.42"/><circle cx="436.4" cy="429.3" r="1.42"/><circle cx="305.0" cy="435.5" r="1.42"/><circle cx="307.3" cy="435.5" r="1.42"/><circle cx="309.5" cy="435.5" r="1.42"/><circle cx="311.8" cy="435.5" r="1.42"/><circle cx="314.0" cy="435.5" r="1.42"/><circle cx="316.3" cy="435.5" r="1.42"/><circle cx="318.5" cy="435.5" r="1.42"/><circle cx="320.8" cy="435.5" r="1.42"/><circle cx="323.0" cy="435.5" r="1.42"/><circle cx="325.3" cy="435.5" r="1.42"/><circle cx="327.5" cy="435.5" r="1.42"/><circle cx="329.8" cy="435.5" r="1.42"/><circle cx="332.0" cy="435.5" r="1.42"/><circle cx="334.3" cy="435.5" r="1.42"/><circle cx="336.5" cy="435.5" r="1.42"/><circle cx="338.8" cy="435.5" r="1.42"/><circle cx="305.0" cy="437.8" r="1.42"/><circle cx="307.2" cy="437.8" r="1.42"/><circle cx="309.3" cy="437.8" r="1.42"/><circle cx="311.5" cy="437.8" r="1.42"/><circle cx="313.7" cy="437.8" r="1.42"/><circle cx="315.8" cy="437.8" r="1.42"/><circle cx="318.0" cy="437.8" r="1.42"/><circle cx="320.2" cy="437.8" r="1.42"/><circle cx="322.3" cy="437.8" r="1.42"/><circle cx="324.5" cy="437.8" r="1.42"/><circle cx="327.7" cy="436.5" r="1.42"/><circle cx="330.0" cy="436.5" r="1.42"/><circle cx="332.4" cy="436.5" r="1.42"/><circle cx="334.7" cy="436.5" r="1.42"/><circle cx="337.1" cy="436.5" r="1.42"/><circle cx="339.4" cy="436.5" r="1.42"/><circle cx="344.0" cy="437" r="1.42"/><circle cx="346.1" cy="437" r="1.42"/><circle cx="348.2" cy="437" r="1.42"/><circle cx="350.2" cy="437" r="1.42"/><circle cx="352.3" cy="437" r="1.42"/><circle cx="354.4" cy="437" r="1.42"/><circle cx="352.0" cy="435.5" r="1.42"/><circle cx="353.9" cy="435.5" r="1.42"/><circle cx="355.9" cy="435.5" r="1.42"/><circle cx="357.8" cy="435.5" r="1.42"/><circle cx="361.0" cy="435.6" r="1.42"/><circle cx="363.4" cy="435.6" r="1.42"/><circle cx="365.7" cy="435.6" r="1.42"/><circle cx="368.0" cy="435.6" r="1.42"/><circle cx="370.4" cy="435.6" r="1.42"/><circle cx="255.6" cy="445" r="1.42"/><circle cx="255.6" cy="445" r="1.42"/><circle cx="260.1" cy="445" r="1.42"/><circle cx="260.1" cy="445" r="1.42"/><circle cx="266.0" cy="445" r="1.42"/><circle cx="266.0" cy="445" r="1.42"/><circle cx="269.9" cy="445" r="1.42"/><circle cx="272.5" cy="445" r="1.42"/><circle cx="275.1" cy="445" r="1.42"/><circle cx="278.3" cy="445" r="1.42"/><circle cx="280.5" cy="445" r="1.42"/><circle cx="282.6" cy="445" r="1.42"/><circle cx="284.8" cy="445" r="1.42"/><circle cx="290.0" cy="445" r="1.42"/><circle cx="290.0" cy="445" r="1.42"/><circle cx="294.6" cy="445" r="1.42"/><circle cx="296.8" cy="445" r="1.42"/><circle cx="298.9" cy="445" r="1.42"/><circle cx="301.1" cy="445" r="1.42"/><circle cx="304.3" cy="445" r="1.42"/><circle cx="304.3" cy="445" r="1.42"/><circle cx="305.0" cy="444" r="1.42"/><circle cx="307.3" cy="444" r="1.42"/><circle cx="309.5" cy="444" r="1.42"/><circle cx="311.8" cy="444" r="1.42"/><circle cx="314.1" cy="444" r="1.42"/><circle cx="316.3" cy="444" r="1.42"/><circle cx="318.6" cy="444" r="1.42"/><circle cx="295.9" cy="449.7" r="1.42"/><circle cx="295.9" cy="449.7" r="1.42"/><circle cx="304.3" cy="449.7" r="1.42"/><circle cx="305.6" cy="449.7" r="1.42"/><circle cx="314.1" cy="449.7" r="1.42"/><circle cx="314.1" cy="449.7" r="1.42"/><circle cx="320.6" cy="449.7" r="1.42"/><circle cx="323.8" cy="449.7" r="1.42"/><circle cx="329.7" cy="449.7" r="1.42"/><circle cx="329.7" cy="449.7" r="1.42"/><circle cx="334.9" cy="449.7" r="1.42"/><circle cx="337.3" cy="449.7" r="1.42"/><circle cx="339.8" cy="449.7" r="1.42"/><circle cx="342.2" cy="449.7" r="1.42"/><circle cx="344.6" cy="449.7" r="1.42"/><circle cx="349.8" cy="449.7" r="1.42"/><circle cx="352.0" cy="449.7" r="1.42"/><circle cx="354.1" cy="449.7" r="1.42"/><circle cx="356.3" cy="449.7" r="1.42"/><circle cx="329.4" cy="462" r="1.42"/><circle cx="329.4" cy="462" r="1.42"/><circle cx="335.8" cy="462" r="1.42"/><circle cx="335.8" cy="462" r="1.42"/><circle cx="342.7" cy="462" r="1.42"/><circle cx="344.9" cy="462" r="1.42"/><circle cx="347.1" cy="462" r="1.42"/><circle cx="349.2" cy="462" r="1.42"/><circle cx="351.4" cy="462" r="1.42"/><circle cx="353.6" cy="462" r="1.42"/><circle cx="355.8" cy="462" r="1.42"/><circle cx="366.2" cy="462" r="1.42"/><circle cx="368.9" cy="462" r="1.42"/><circle cx="371.7" cy="462" r="1.42"/><circle cx="295.6" cy="483" r="1.42"/><circle cx="297.9" cy="483" r="1.42"/><circle cx="300.1" cy="483" r="1.42"/><circle cx="306.0" cy="483" r="1.42"/><circle cx="306.0" cy="483" r="1.42"/><circle cx="309.9" cy="483" r="1.42"/><circle cx="312.1" cy="483" r="1.42"/><circle cx="314.4" cy="483" r="1.42"/><circle cx="319.0" cy="483" r="1.42"/><circle cx="319.0" cy="483" r="1.42"/><circle cx="324.2" cy="483" r="1.42"/><circle cx="326.4" cy="483" r="1.42"/><circle cx="328.7" cy="483" r="1.42"/><circle cx="336.3" cy="482.8" r="1.42"/><circle cx="338.4" cy="482.8" r="1.42"/><circle cx="340.6" cy="482.8" r="1.42"/><circle cx="342.7" cy="482.8" r="1.42"/><circle cx="344.8" cy="482.8" r="1.42"/><circle cx="346.9" cy="482.8" r="1.42"/><circle cx="349.1" cy="482.8" r="1.42"/><circle cx="351.2" cy="482.8" r="1.42"/><circle cx="353.8" cy="482.8" r="1.42"/><circle cx="356.2" cy="482.8" r="1.42"/><circle cx="358.7" cy="482.8" r="1.42"/><circle cx="361.2" cy="482.8" r="1.42"/><circle cx="363.6" cy="482.8" r="1.42"/><circle cx="368.1" cy="482.8" r="1.42"/><circle cx="370.1" cy="482.8" r="1.42"/><circle cx="372.0" cy="482.8" r="1.42"/><circle cx="373.9" cy="482.8" r="1.42"/><circle cx="375.9" cy="482.8" r="1.42"/><circle cx="381.1" cy="482.5" r="1.42"/><circle cx="383.6" cy="482.5" r="1.42"/><circle cx="386.1" cy="482.5" r="1.42"/><circle cx="388.6" cy="482.5" r="1.42"/><circle cx="348.6" cy="493.1" r="1.42"/><circle cx="350.7" cy="493.1" r="1.42"/><circle cx="352.8" cy="493.1" r="1.42"/><circle cx="354.9" cy="493.1" r="1.42"/><circle cx="357.1" cy="493.1" r="1.42"/><circle cx="359.2" cy="493.1" r="1.42"/><circle cx="361.3" cy="493.1" r="1.42"/><circle cx="363.4" cy="493.1" r="1.42"/><circle cx="365.5" cy="493.1" r="1.42"/><circle cx="369.4" cy="493.1" r="1.42"/><circle cx="369.4" cy="493.1" r="1.42"/><circle cx="309.9" cy="505.2" r="1.42"/><circle cx="312.1" cy="505.2" r="1.42"/><circle cx="314.2" cy="505.2" r="1.42"/><circle cx="316.4" cy="505.2" r="1.42"/><circle cx="318.6" cy="505.2" r="1.42"/><circle cx="320.7" cy="505.2" r="1.42"/><circle cx="322.9" cy="505.2" r="1.42"/><circle cx="325.1" cy="505.2" r="1.42"/><circle cx="327.2" cy="505.2" r="1.42"/><circle cx="329.4" cy="505.2" r="1.42"/><circle cx="346.0" cy="505.1" r="1.42"/><circle cx="346.0" cy="505.1" r="1.42"/><circle cx="351.2" cy="505.1" r="1.42"/><circle cx="353.1" cy="505.1" r="1.42"/><circle cx="355.1" cy="505.1" r="1.42"/><circle cx="377.2" cy="505.1" r="1.42"/><circle cx="379.1" cy="505.1" r="1.42"/><circle cx="381.1" cy="505.1" r="1.42"/><circle cx="383.0" cy="505.1" r="1.42"/>
</g>
<line x1="255.6" y1="460.8" x2="435.5" y2="410.2" stroke="#cc4656" stroke-width="0.95"/>
<line x1="252.7" x2="252.7" y1="392.3" y2="508.2" stroke="#7d8183" stroke-width="0.8"/>
<line x1="252.7" x2="446" y1="508.2" y2="508.2" stroke="#7d8183" stroke-width="0.8"/>
<line x1="250.7" x2="252.7" y1="499.5" y2="499.5" stroke="#7d8183" stroke-width="0.6"/>
<text class="s" font-size="5.73" text-anchor="middle" transform="translate(248.7,499.5) rotate(-90)" dy="0">.5</text>
<line x1="250.7" x2="252.7" y1="474.7" y2="474.7" stroke="#7d8183" stroke-width="0.6"/>
<text class="s" font-size="5.73" text-anchor="middle" transform="translate(248.7,474.7) rotate(-90)" dy="0">.6</text>
<line x1="250.7" x2="252.7" y1="449.8" y2="449.8" stroke="#7d8183" stroke-width="0.6"/>
<text class="s" font-size="5.73" text-anchor="middle" transform="translate(248.7,449.8) rotate(-90)" dy="0">.7</text>
<line x1="250.7" x2="252.7" y1="425.0" y2="425.0" stroke="#7d8183" stroke-width="0.6"/>
<text class="s" font-size="5.73" text-anchor="middle" transform="translate(248.7,425.0) rotate(-90)" dy="0">.8</text>
<line x1="250.7" x2="252.7" y1="400.1" y2="400.1" stroke="#7d8183" stroke-width="0.6"/>
<text class="s" font-size="5.73" text-anchor="middle" transform="translate(248.7,400.1) rotate(-90)" dy="0">.9</text>
<line x1="255.5" x2="255.5" y1="508.2" y2="510.2" stroke="#7d8183" stroke-width="0.6"/>
<text class="s" font-size="5.73" text-anchor="middle" x="255.5" y="515.7">.75</text>
<line x1="302.4" x2="302.4" y1="508.2" y2="510.2" stroke="#7d8183" stroke-width="0.6"/>
<text class="s" font-size="5.73" text-anchor="middle" x="302.4" y="515.7">.8</text>
<line x1="349.2" x2="349.2" y1="508.2" y2="510.2" stroke="#7d8183" stroke-width="0.6"/>
<text class="s" font-size="5.73" text-anchor="middle" x="349.2" y="515.7">.85</text>
<line x1="396" x2="396" y1="508.2" y2="510.2" stroke="#7d8183" stroke-width="0.6"/>
<text class="s" font-size="5.73" text-anchor="middle" x="396" y="515.7">.9</text>
<line x1="443" x2="443" y1="508.2" y2="510.2" stroke="#7d8183" stroke-width="0.6"/>
<text class="s" font-size="5.73" text-anchor="middle" x="443" y="515.7">.95</text>
<text class="s" font-size="5.73" text-anchor="middle" x="349.4" y="520.5">HDI</text>
<rect x="295.2" y="525.8" width="107.2" height="10.3" fill="#fff" stroke="#7d8183" stroke-width="0.7"/>
<circle cx="298.6" cy="531.0" r="1.45" fill="#10406f"/>
<text class="s" font-size="5.73" x="303.0" y="533.0" textLength="34.3" lengthAdjust="spacingAndGlyphs">Cybersecurity</text>
<line x1="344.5" x2="365.3" y1="531.0" y2="531.0" stroke="#cc4656" stroke-width="0.7"/>
<text class="s" font-size="5.73" x="369.2" y="533.0" textLength="31.2" lengthAdjust="spacingAndGlyphs">Fitted values</text>
</svg></body></html>
